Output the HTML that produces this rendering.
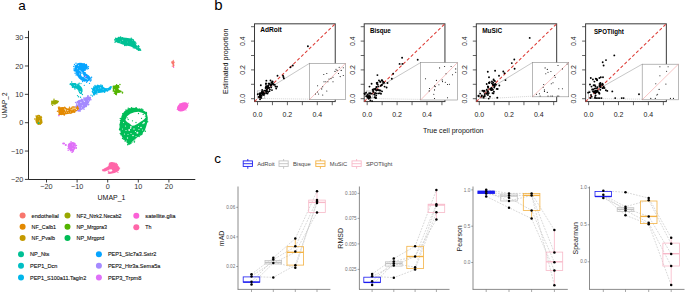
<!DOCTYPE html>
<html><head><meta charset="utf-8"><style>
html,body{margin:0;padding:0;background:#fff;width:685px;height:292px;overflow:hidden}
svg{display:block;font-family:"Liberation Sans", sans-serif}
</style></head><body>
<svg width="685" height="292" viewBox="0 0 685 292">
<rect width="685" height="292" fill="#fff"/>
<text x="18.2" y="9.8" font-size="13.5" fill="#000" text-anchor="start" font-weight="normal">a</text>
<line x1="28.5" y1="30.8" x2="28.5" y2="179.5" stroke="#111" stroke-width="0.9"/>
<line x1="28.5" y1="179.5" x2="195.3" y2="179.5" stroke="#111" stroke-width="0.9"/>
<line x1="24.9" y1="37.62" x2="28.5" y2="37.62" stroke="#111" stroke-width="0.8"/>
<text x="23.3" y="40.22" font-size="7.3" fill="#333" text-anchor="end" font-weight="normal">30</text>
<line x1="24.9" y1="65.98" x2="28.5" y2="65.98" stroke="#111" stroke-width="0.8"/>
<text x="23.3" y="68.58" font-size="7.3" fill="#333" text-anchor="end" font-weight="normal">20</text>
<line x1="24.9" y1="94.34" x2="28.5" y2="94.34" stroke="#111" stroke-width="0.8"/>
<text x="23.3" y="96.94" font-size="7.3" fill="#333" text-anchor="end" font-weight="normal">10</text>
<line x1="24.9" y1="122.7" x2="28.5" y2="122.7" stroke="#111" stroke-width="0.8"/>
<text x="23.3" y="125.3" font-size="7.3" fill="#333" text-anchor="end" font-weight="normal">0</text>
<line x1="24.9" y1="151.06" x2="28.5" y2="151.06" stroke="#111" stroke-width="0.8"/>
<text x="23.3" y="153.66" font-size="7.3" fill="#333" text-anchor="end" font-weight="normal">&#8722;10</text>
<line x1="24.9" y1="179.42" x2="28.5" y2="179.42" stroke="#111" stroke-width="0.8"/>
<text x="23.3" y="182.02" font-size="7.3" fill="#333" text-anchor="end" font-weight="normal">&#8722;20</text>
<line x1="46.5" y1="179.5" x2="46.5" y2="182.5" stroke="#111" stroke-width="0.8"/>
<text x="46.5" y="189.4" font-size="7.3" fill="#333" text-anchor="middle" font-weight="normal">&#8722;20</text>
<line x1="77.1" y1="179.5" x2="77.1" y2="182.5" stroke="#111" stroke-width="0.8"/>
<text x="77.1" y="189.4" font-size="7.3" fill="#333" text-anchor="middle" font-weight="normal">&#8722;10</text>
<line x1="107.7" y1="179.5" x2="107.7" y2="182.5" stroke="#111" stroke-width="0.8"/>
<text x="107.7" y="189.4" font-size="7.3" fill="#333" text-anchor="middle" font-weight="normal">0</text>
<line x1="138.3" y1="179.5" x2="138.3" y2="182.5" stroke="#111" stroke-width="0.8"/>
<text x="138.3" y="189.4" font-size="7.3" fill="#333" text-anchor="middle" font-weight="normal">10</text>
<line x1="168.9" y1="179.5" x2="168.9" y2="182.5" stroke="#111" stroke-width="0.8"/>
<text x="168.9" y="189.4" font-size="7.3" fill="#333" text-anchor="middle" font-weight="normal">20</text>
<text x="111.5" y="200" font-size="6.9" fill="#111" text-anchor="middle" font-weight="normal" textLength="27.8" lengthAdjust="spacingAndGlyphs">UMAP_1</text>
<text x="6.9" y="105.3" font-size="6.9" fill="#111" text-anchor="middle" font-weight="normal" transform="rotate(-90 6.9 105.3)" textLength="25.5" lengthAdjust="spacingAndGlyphs">UMAP_2</text>
<polygon points="114,39.5 116,38 120,37.3 126,37.8 131,38.5 134,40 135.3,43 136.8,45.5 139,47.3 140.5,49.3 139.5,50.5 137,49.7 134,47.8 130,46.3 126,45.6 122,44.3 118,42.7 115,41.7" fill="#00C094"/>
<circle cx="136.94" cy="48.93" r="0.75" fill="#00C094"/>
<circle cx="115.05" cy="42.23" r="0.75" fill="#00C094"/>
<circle cx="135.24" cy="42.32" r="0.75" fill="#00C094"/>
<circle cx="122.51" cy="37.69" r="0.75" fill="#00C094"/>
<circle cx="138.34" cy="45.85" r="0.75" fill="#00C094"/>
<circle cx="133.3" cy="47.83" r="0.75" fill="#00C094"/>
<circle cx="131.23" cy="38.25" r="0.75" fill="#00C094"/>
<circle cx="140.27" cy="49.26" r="0.75" fill="#00C094"/>
<circle cx="135.94" cy="43.14" r="0.75" fill="#00C094"/>
<circle cx="118.47" cy="37.62" r="0.75" fill="#00C094"/>
<circle cx="139.1" cy="49.88" r="0.75" fill="#00C094"/>
<circle cx="138.91" cy="46.47" r="0.75" fill="#00C094"/>
<circle cx="140.65" cy="50.34" r="0.75" fill="#00C094"/>
<circle cx="139.12" cy="50.05" r="0.75" fill="#00C094"/>
<circle cx="134.36" cy="42.25" r="0.75" fill="#00C094"/>
<circle cx="119.09" cy="37.43" r="0.75" fill="#00C094"/>
<circle cx="138.38" cy="50.22" r="0.75" fill="#00C094"/>
<circle cx="124.99" cy="45.1" r="0.75" fill="#00C094"/>
<circle cx="120.73" cy="37.6" r="0.75" fill="#00C094"/>
<circle cx="124.66" cy="45.53" r="0.75" fill="#00C094"/>
<circle cx="115.62" cy="38.29" r="0.75" fill="#00C094"/>
<circle cx="122.25" cy="43.54" r="0.75" fill="#00C094"/>
<circle cx="138.43" cy="46.21" r="0.75" fill="#00C094"/>
<circle cx="134.67" cy="42.04" r="0.75" fill="#00C094"/>
<circle cx="126.15" cy="45.54" r="0.75" fill="#00C094"/>
<circle cx="134.74" cy="47.92" r="0.75" fill="#00C094"/>
<circle cx="120.57" cy="36.91" r="0.75" fill="#00C094"/>
<circle cx="118.1" cy="42.58" r="0.75" fill="#00C094"/>
<circle cx="132.02" cy="39.25" r="0.75" fill="#00C094"/>
<circle cx="133.1" cy="39.75" r="0.75" fill="#00C094"/>
<circle cx="137.17" cy="47.83" r="0.38" fill="#fff" opacity="0.85"/>
<circle cx="115.78" cy="40.06" r="0.33" fill="#fff" opacity="0.85"/>
<circle cx="120.68" cy="41.89" r="0.37" fill="#fff" opacity="0.85"/>
<circle cx="132.45" cy="40.75" r="0.37" fill="#fff" opacity="0.85"/>
<circle cx="122.74" cy="40.24" r="0.46" fill="#fff" opacity="0.85"/>
<circle cx="127.72" cy="41.99" r="0.31" fill="#fff" opacity="0.85"/>
<polygon points="171.4,61.3 173.8,60.9 174.8,62.3 174,63.8 174.6,65.8 173,66.2 172.4,64.2 171.2,63" fill="#F8766D"/>
<circle cx="173.25" cy="60.43" r="0.6" fill="#F8766D"/>
<circle cx="173.52" cy="66.18" r="0.6" fill="#F8766D"/>
<circle cx="172.24" cy="65.99" r="0.6" fill="#F8766D"/>
<circle cx="173.1" cy="66.51" r="0.6" fill="#F8766D"/>
<circle cx="173.6" cy="67.2" r="0.7" fill="#FB61D7"/>
<ellipse cx="182.7" cy="106.8" rx="6.1" ry="4.1" fill="#FB61D7" transform="rotate(-28 182.7 106.8)"/>
<circle cx="177.2" cy="109.5" r="0.6" fill="#FB61D7"/>
<circle cx="188.3" cy="103.2" r="0.6" fill="#FB61D7"/>
<circle cx="180" cy="103.6" r="0.6" fill="#FB61D7"/>
<circle cx="186" cy="110" r="0.6" fill="#FB61D7"/>
<polygon points="77.5,63.2 81,62.8 85,63.8 87.5,65.5 87.8,68 85.5,70 84,71.5 86,73.5 89,75.5 91,78 90,80.5 86,81.6 82,80.8 79,78.5 77,75.5 75.5,72 74.2,69.5 75,66.5" fill="#06A4FF"/>
<circle cx="79.45" cy="63.55" r="0.75" fill="#06A4FF"/>
<circle cx="86.4" cy="65.02" r="0.75" fill="#06A4FF"/>
<circle cx="84.38" cy="72.98" r="0.75" fill="#06A4FF"/>
<circle cx="90.46" cy="80.99" r="0.75" fill="#06A4FF"/>
<circle cx="77.2" cy="74.5" r="0.75" fill="#06A4FF"/>
<circle cx="83.16" cy="71.65" r="0.75" fill="#06A4FF"/>
<circle cx="75.15" cy="73.26" r="0.75" fill="#06A4FF"/>
<circle cx="74.38" cy="70.44" r="0.75" fill="#06A4FF"/>
<circle cx="88.29" cy="68.45" r="0.75" fill="#06A4FF"/>
<circle cx="88.44" cy="66.7" r="0.75" fill="#06A4FF"/>
<circle cx="85.13" cy="72.71" r="0.75" fill="#06A4FF"/>
<circle cx="90.97" cy="78.94" r="0.75" fill="#06A4FF"/>
<circle cx="75.38" cy="65.86" r="0.75" fill="#06A4FF"/>
<circle cx="82.7" cy="81.45" r="0.75" fill="#06A4FF"/>
<circle cx="75.29" cy="68.24" r="0.75" fill="#06A4FF"/>
<circle cx="75.4" cy="66.67" r="0.75" fill="#06A4FF"/>
<circle cx="85.08" cy="70.28" r="0.75" fill="#06A4FF"/>
<circle cx="87.12" cy="69.05" r="0.75" fill="#06A4FF"/>
<circle cx="87.33" cy="81.22" r="0.75" fill="#06A4FF"/>
<circle cx="86.97" cy="67.15" r="0.75" fill="#06A4FF"/>
<circle cx="84.1" cy="63.68" r="0.75" fill="#06A4FF"/>
<circle cx="86.31" cy="64.56" r="0.75" fill="#06A4FF"/>
<circle cx="73.96" cy="68.92" r="0.75" fill="#06A4FF"/>
<circle cx="74.39" cy="70.77" r="0.75" fill="#06A4FF"/>
<circle cx="91.55" cy="77.27" r="0.75" fill="#06A4FF"/>
<circle cx="76.11" cy="74.92" r="0.75" fill="#06A4FF"/>
<circle cx="87.37" cy="79.66" r="0.33" fill="#fff" opacity="0.85"/>
<circle cx="81.45" cy="72.49" r="0.37" fill="#fff" opacity="0.85"/>
<circle cx="77.49" cy="68.79" r="0.44" fill="#fff" opacity="0.85"/>
<circle cx="79.77" cy="74.53" r="0.4" fill="#fff" opacity="0.85"/>
<circle cx="78.74" cy="65.24" r="0.38" fill="#fff" opacity="0.85"/>
<circle cx="78.54" cy="65.61" r="0.48" fill="#fff" opacity="0.85"/>
<circle cx="83.79" cy="75.97" r="0.32" fill="#fff" opacity="0.85"/>
<circle cx="79.9" cy="73.2" r="0.49" fill="#fff" opacity="0.85"/>
<polygon points="81,74 82,73.3 83.4,75 83.8,76.8 82.7,77.1 81.4,76" fill="#fff"/>
<path d="M79.2,70.2 Q81.5,71 82.6,73.4" stroke="#fff" stroke-width="0.55" fill="none"/>
<path d="M83.8,77.2 Q85.5,78.6 87.5,79" stroke="#fff" stroke-width="0.5" fill="none"/>
<circle cx="85.6" cy="76.6" r="0.8" fill="#DF70F8"/>
<circle cx="74.5" cy="64.5" r="0.7" fill="#06A4FF"/>
<circle cx="76" cy="63.2" r="0.7" fill="#06A4FF"/>
<circle cx="89.5" cy="79" r="0.7" fill="#06A4FF"/>
<circle cx="91" cy="80.2" r="0.7" fill="#06A4FF"/>
<circle cx="88" cy="80.6" r="0.7" fill="#06A4FF"/>
<circle cx="73.8" cy="66.5" r="0.7" fill="#06A4FF"/>
<circle cx="84.5" cy="81" r="0.7" fill="#06A4FF"/>
<circle cx="86.6" cy="82.2" r="0.7" fill="#06A4FF"/>
<polygon points="70.7,83.6 72.5,82.9 75.5,83 76.8,84 78.5,84.8 80,85.5 81.5,87 82.5,89 82.6,91.5 81.5,93.5 79.5,93.3 78.5,91.5 77.5,89.5 76,88.5 74,88 72.5,87 71,85.5" fill="#00BFC4"/>
<circle cx="81.09" cy="93.12" r="0.75" fill="#00BFC4"/>
<circle cx="78.02" cy="84.2" r="0.75" fill="#00BFC4"/>
<circle cx="80.3" cy="92.84" r="0.75" fill="#00BFC4"/>
<circle cx="72.67" cy="87.22" r="0.75" fill="#00BFC4"/>
<circle cx="71.66" cy="82.04" r="0.75" fill="#00BFC4"/>
<circle cx="70.28" cy="84.41" r="0.75" fill="#00BFC4"/>
<circle cx="74.41" cy="87.77" r="0.75" fill="#00BFC4"/>
<circle cx="72.38" cy="87.03" r="0.75" fill="#00BFC4"/>
<circle cx="80.99" cy="93.08" r="0.75" fill="#00BFC4"/>
<circle cx="78.83" cy="84.28" r="0.75" fill="#00BFC4"/>
<circle cx="78.75" cy="85.49" r="0.75" fill="#00BFC4"/>
<circle cx="74.93" cy="89.03" r="0.75" fill="#00BFC4"/>
<circle cx="70.41" cy="83.76" r="0.75" fill="#00BFC4"/>
<circle cx="80.84" cy="93.08" r="0.75" fill="#00BFC4"/>
<circle cx="72.01" cy="84.27" r="0.75" fill="#00BFC4"/>
<circle cx="80.09" cy="92.52" r="0.75" fill="#00BFC4"/>
<circle cx="76.68" cy="85.03" r="0.43" fill="#fff" opacity="0.85"/>
<circle cx="74.32" cy="85.37" r="0.45" fill="#fff" opacity="0.85"/>
<circle cx="80.64" cy="92.35" r="0.46" fill="#fff" opacity="0.85"/>
<circle cx="79.43" cy="91.51" r="0.33" fill="#fff" opacity="0.85"/>
<circle cx="80.64" cy="91.43" r="0.51" fill="#fff" opacity="0.85"/>
<circle cx="78.83" cy="90.25" r="0.36" fill="#fff" opacity="0.85"/>
<circle cx="78.5" cy="96.8" r="0.7" fill="#00BFC4"/>
<circle cx="80.5" cy="97.3" r="0.7" fill="#00BFC4"/>
<circle cx="82.4" cy="94.5" r="0.7" fill="#00BFC4"/>
<circle cx="79.2" cy="83.3" r="0.7" fill="#00BFC4"/>
<circle cx="81" cy="83.6" r="0.7" fill="#00BFC4"/>
<circle cx="77.5" cy="95.6" r="0.7" fill="#00BFC4"/>
<circle cx="84.3" cy="85.3" r="0.65" fill="#00B6EB"/>
<circle cx="89.5" cy="83.3" r="0.65" fill="#00B6EB"/>
<circle cx="91" cy="95.2" r="0.65" fill="#00B6EB"/>
<circle cx="92.5" cy="96" r="0.65" fill="#00B6EB"/>
<polygon points="92.4,89 93.5,87 95.5,85.8 98.5,85.1 101.5,85.5 103.5,87 105.5,88.2 108,88 110,86.8 111.8,86.3 111.3,88.5 110.5,90 107,91.3 104,92.2 101,92.8 97,93.2 95,94.3 93,94.5 92.4,92" fill="#00B6EB"/>
<circle cx="92.69" cy="89.74" r="0.75" fill="#00B6EB"/>
<circle cx="104.6" cy="92.28" r="0.75" fill="#00B6EB"/>
<circle cx="92.57" cy="91.9" r="0.75" fill="#00B6EB"/>
<circle cx="97.75" cy="85.34" r="0.75" fill="#00B6EB"/>
<circle cx="95.29" cy="93.87" r="0.75" fill="#00B6EB"/>
<circle cx="97.56" cy="85.67" r="0.75" fill="#00B6EB"/>
<circle cx="110.34" cy="87.1" r="0.75" fill="#00B6EB"/>
<circle cx="107.51" cy="90.99" r="0.75" fill="#00B6EB"/>
<circle cx="94.99" cy="85.5" r="0.75" fill="#00B6EB"/>
<circle cx="102.44" cy="86.34" r="0.75" fill="#00B6EB"/>
<circle cx="92.37" cy="91.57" r="0.75" fill="#00B6EB"/>
<circle cx="100.89" cy="85" r="0.75" fill="#00B6EB"/>
<circle cx="94.37" cy="94.84" r="0.75" fill="#00B6EB"/>
<circle cx="93.74" cy="94.79" r="0.75" fill="#00B6EB"/>
<circle cx="91.96" cy="88.43" r="0.75" fill="#00B6EB"/>
<circle cx="96.82" cy="93.95" r="0.75" fill="#00B6EB"/>
<circle cx="104.95" cy="88.63" r="0.75" fill="#00B6EB"/>
<circle cx="111.05" cy="86.9" r="0.75" fill="#00B6EB"/>
<circle cx="93.74" cy="94.11" r="0.75" fill="#00B6EB"/>
<circle cx="95.18" cy="93.33" r="0.75" fill="#00B6EB"/>
<circle cx="93.77" cy="86.93" r="0.75" fill="#00B6EB"/>
<circle cx="102.11" cy="85.44" r="0.75" fill="#00B6EB"/>
<circle cx="98.83" cy="88.15" r="0.37" fill="#fff" opacity="0.85"/>
<circle cx="93.4" cy="91.32" r="0.43" fill="#fff" opacity="0.85"/>
<circle cx="100.86" cy="88.07" r="0.45" fill="#fff" opacity="0.85"/>
<circle cx="107.63" cy="89.12" r="0.31" fill="#fff" opacity="0.85"/>
<circle cx="95.71" cy="89" r="0.36" fill="#fff" opacity="0.85"/>
<circle cx="97.36" cy="92.04" r="0.43" fill="#fff" opacity="0.85"/>
<circle cx="100.28" cy="87.34" r="0.4" fill="#fff" opacity="0.85"/>
<circle cx="103.08" cy="89.36" r="0.37" fill="#fff" opacity="0.85"/>
<polygon points="113,86 116,85 119,84.9 119.5,87.5 118,89 118.8,90 121.5,90.8 121.8,92.3 119.5,92.6 117.3,93 116.8,95.4 115,94.8 114.5,92.5 113,90.5 112.6,88" fill="#53B400"/>
<circle cx="113.18" cy="91.05" r="0.75" fill="#53B400"/>
<circle cx="116.62" cy="84.66" r="0.75" fill="#53B400"/>
<circle cx="119.62" cy="90.9" r="0.75" fill="#53B400"/>
<circle cx="114.35" cy="93.24" r="0.75" fill="#53B400"/>
<circle cx="118.64" cy="87.28" r="0.75" fill="#53B400"/>
<circle cx="118.21" cy="89.91" r="0.75" fill="#53B400"/>
<circle cx="118.77" cy="92.34" r="0.75" fill="#53B400"/>
<circle cx="118.51" cy="90.16" r="0.75" fill="#53B400"/>
<circle cx="122.41" cy="92.9" r="0.75" fill="#53B400"/>
<circle cx="113.25" cy="86.35" r="0.75" fill="#53B400"/>
<circle cx="113.95" cy="90.65" r="0.75" fill="#53B400"/>
<circle cx="122.55" cy="92.25" r="0.75" fill="#53B400"/>
<circle cx="119.11" cy="91.89" r="0.75" fill="#53B400"/>
<circle cx="119.93" cy="84.59" r="0.75" fill="#53B400"/>
<circle cx="114.83" cy="90.43" r="0.41" fill="#fff" opacity="0.85"/>
<circle cx="114.7" cy="89.36" r="0.37" fill="#fff" opacity="0.85"/>
<circle cx="114.38" cy="89.78" r="0.35" fill="#fff" opacity="0.85"/>
<polygon points="76.5,101.5 79,100 82,99.3 84.5,98.5 86.5,97.2 89,96.5 91.1,97 90.8,99.5 89.5,101.5 88,104 86.5,106.5 84,108.5 81,110.3 78.5,111.3 76.5,110.5 76,107 76.2,104" fill="#A58AFF"/>
<circle cx="88.06" cy="104.47" r="0.75" fill="#A58AFF"/>
<circle cx="90.91" cy="99.67" r="0.75" fill="#A58AFF"/>
<circle cx="88" cy="95.7" r="0.75" fill="#A58AFF"/>
<circle cx="87.92" cy="96.34" r="0.75" fill="#A58AFF"/>
<circle cx="76.74" cy="107.78" r="0.75" fill="#A58AFF"/>
<circle cx="84.02" cy="97.99" r="0.75" fill="#A58AFF"/>
<circle cx="75.58" cy="102.43" r="0.75" fill="#A58AFF"/>
<circle cx="79.78" cy="111.04" r="0.75" fill="#A58AFF"/>
<circle cx="84.11" cy="98.23" r="0.75" fill="#A58AFF"/>
<circle cx="86.09" cy="97.55" r="0.75" fill="#A58AFF"/>
<circle cx="86.65" cy="105.24" r="0.75" fill="#A58AFF"/>
<circle cx="76.11" cy="106.32" r="0.75" fill="#A58AFF"/>
<circle cx="86.3" cy="106.38" r="0.75" fill="#A58AFF"/>
<circle cx="78.23" cy="110.93" r="0.75" fill="#A58AFF"/>
<circle cx="80.13" cy="111.09" r="0.75" fill="#A58AFF"/>
<circle cx="88.42" cy="102.18" r="0.75" fill="#A58AFF"/>
<circle cx="84.01" cy="109.2" r="0.75" fill="#A58AFF"/>
<circle cx="88.72" cy="104.13" r="0.75" fill="#A58AFF"/>
<circle cx="88.45" cy="104.76" r="0.75" fill="#A58AFF"/>
<circle cx="81.58" cy="99.24" r="0.75" fill="#A58AFF"/>
<circle cx="75.82" cy="106.71" r="0.75" fill="#A58AFF"/>
<circle cx="76.21" cy="110.64" r="0.75" fill="#A58AFF"/>
<circle cx="78.94" cy="100.88" r="0.75" fill="#A58AFF"/>
<circle cx="87.71" cy="96.45" r="0.75" fill="#A58AFF"/>
<circle cx="81.46" cy="108.08" r="0.32" fill="#fff" opacity="0.85"/>
<circle cx="78.98" cy="107.64" r="0.37" fill="#fff" opacity="0.85"/>
<circle cx="84.34" cy="101.32" r="0.59" fill="#fff" opacity="0.85"/>
<circle cx="77.46" cy="103.88" r="0.51" fill="#fff" opacity="0.85"/>
<circle cx="82.29" cy="105.68" r="0.5" fill="#fff" opacity="0.85"/>
<circle cx="88.7" cy="100.85" r="0.47" fill="#fff" opacity="0.85"/>
<circle cx="81.63" cy="107.42" r="0.36" fill="#fff" opacity="0.85"/>
<circle cx="78.32" cy="109.59" r="0.47" fill="#fff" opacity="0.85"/>
<circle cx="80.93" cy="102.36" r="0.6" fill="#fff" opacity="0.85"/>
<circle cx="83.66" cy="99.92" r="0.54" fill="#fff" opacity="0.85"/>
<polygon points="58.3,108.5 60,107.3 63,107 65.5,107.6 67.5,108.4 70,108 72.5,107.9 75,107.4 77,107.2 78.8,107.8 78.4,109.5 76.5,111 74,112.3 71,113.4 68,114 65,114.6 62,115.1 59,115 58.2,112" fill="#E38900"/>
<circle cx="64.31" cy="114.55" r="0.75" fill="#E38900"/>
<circle cx="77.43" cy="106.4" r="0.75" fill="#E38900"/>
<circle cx="77.9" cy="108.38" r="0.75" fill="#E38900"/>
<circle cx="57.45" cy="111.34" r="0.75" fill="#E38900"/>
<circle cx="70.69" cy="108.46" r="0.75" fill="#E38900"/>
<circle cx="58.65" cy="108.59" r="0.75" fill="#E38900"/>
<circle cx="72.31" cy="107.06" r="0.75" fill="#E38900"/>
<circle cx="77.49" cy="107.97" r="0.75" fill="#E38900"/>
<circle cx="59.53" cy="107.29" r="0.75" fill="#E38900"/>
<circle cx="77.93" cy="107.92" r="0.75" fill="#E38900"/>
<circle cx="64.09" cy="114.44" r="0.75" fill="#E38900"/>
<circle cx="58.94" cy="114.81" r="0.75" fill="#E38900"/>
<circle cx="71.75" cy="112.67" r="0.75" fill="#E38900"/>
<circle cx="77.83" cy="108.95" r="0.75" fill="#E38900"/>
<circle cx="74.6" cy="112.02" r="0.75" fill="#E38900"/>
<circle cx="74.69" cy="111.67" r="0.75" fill="#E38900"/>
<circle cx="58.42" cy="107.28" r="0.75" fill="#E38900"/>
<circle cx="64.7" cy="107.17" r="0.75" fill="#E38900"/>
<circle cx="69.52" cy="107.34" r="0.75" fill="#E38900"/>
<circle cx="73.95" cy="112.17" r="0.75" fill="#E38900"/>
<circle cx="61.21" cy="114.47" r="0.75" fill="#E38900"/>
<circle cx="71.61" cy="107.89" r="0.75" fill="#E38900"/>
<circle cx="73.86" cy="106.93" r="0.75" fill="#E38900"/>
<circle cx="64.25" cy="115" r="0.75" fill="#E38900"/>
<circle cx="65.48" cy="108.13" r="0.75" fill="#E38900"/>
<circle cx="72.24" cy="108.15" r="0.75" fill="#E38900"/>
<circle cx="74" cy="106.98" r="0.75" fill="#E38900"/>
<circle cx="70.57" cy="113.08" r="0.75" fill="#E38900"/>
<circle cx="75" cy="108.56" r="0.7" fill="#fff" opacity="0.85"/>
<circle cx="71.96" cy="109.63" r="0.51" fill="#fff" opacity="0.85"/>
<circle cx="64.55" cy="109.02" r="0.51" fill="#fff" opacity="0.85"/>
<circle cx="65.77" cy="111.08" r="0.42" fill="#fff" opacity="0.85"/>
<circle cx="67.78" cy="110.62" r="0.6" fill="#fff" opacity="0.85"/>
<circle cx="74.9" cy="110.24" r="0.38" fill="#fff" opacity="0.85"/>
<circle cx="65.59" cy="109.96" r="0.67" fill="#fff" opacity="0.85"/>
<circle cx="68.59" cy="112.32" r="0.37" fill="#fff" opacity="0.85"/>
<circle cx="64.66" cy="112.84" r="0.38" fill="#fff" opacity="0.85"/>
<circle cx="76.45" cy="109.33" r="0.67" fill="#fff" opacity="0.85"/>
<circle cx="73.05" cy="108.79" r="0.68" fill="#fff" opacity="0.85"/>
<circle cx="70.78" cy="109.04" r="0.48" fill="#fff" opacity="0.85"/>
<circle cx="70.39" cy="111.99" r="0.44" fill="#fff" opacity="0.85"/>
<circle cx="66.51" cy="112.16" r="0.46" fill="#fff" opacity="0.85"/>
<circle cx="58.9" cy="115.6" r="0.8" fill="#DF70F8"/>
<polygon points="51.3,102 53,100.2 56,99.9 58.9,101 58,103 55,104.8 52.5,104.2" fill="#99A800"/>
<circle cx="58" cy="101.4" r="0.75" fill="#99A800"/>
<circle cx="51.79" cy="101.26" r="0.75" fill="#99A800"/>
<circle cx="51.99" cy="103.54" r="0.75" fill="#99A800"/>
<circle cx="51.79" cy="102.19" r="0.75" fill="#99A800"/>
<circle cx="52.58" cy="105.2" r="0.75" fill="#99A800"/>
<circle cx="57.26" cy="102.51" r="0.75" fill="#99A800"/>
<circle cx="53.97" cy="99.33" r="0.75" fill="#99A800"/>
<circle cx="51.54" cy="103.9" r="0.75" fill="#99A800"/>
<polygon points="36,116 38,114.7 40,115 40.6,117 42,119 42.5,122 41,124.5 38,124.9 36,123 35.3,120 35.8,118" fill="#C49A00"/>
<circle cx="36.48" cy="118.56" r="0.75" fill="#C49A00"/>
<circle cx="36.07" cy="115.94" r="0.75" fill="#C49A00"/>
<circle cx="40.17" cy="124.04" r="0.75" fill="#C49A00"/>
<circle cx="40.64" cy="117.42" r="0.75" fill="#C49A00"/>
<circle cx="34.77" cy="119.03" r="0.75" fill="#C49A00"/>
<circle cx="40.82" cy="117.17" r="0.75" fill="#C49A00"/>
<circle cx="41.52" cy="122.9" r="0.75" fill="#C49A00"/>
<circle cx="41.5" cy="117.63" r="0.75" fill="#C49A00"/>
<circle cx="41.03" cy="116.57" r="0.75" fill="#C49A00"/>
<circle cx="41.68" cy="122.48" r="0.75" fill="#C49A00"/>
<circle cx="39.47" cy="120.84" r="0.4" fill="#fff" opacity="0.85"/>
<circle cx="38.85" cy="116.38" r="0.3" fill="#fff" opacity="0.85"/>
<circle cx="39.71" cy="121.4" r="0.34" fill="#fff" opacity="0.85"/>
<circle cx="38.6" cy="123.2" r="0.9" fill="#00C094"/>
<polygon points="68,144 70,142.5 73,141.9 75.5,143 76,146 75,149 73.5,151.6 70.5,151 68.5,149 67.7,146.5" fill="#DF70F8"/>
<circle cx="73.1" cy="151.49" r="0.75" fill="#DF70F8"/>
<circle cx="70.47" cy="150.77" r="0.75" fill="#DF70F8"/>
<circle cx="76.26" cy="148.28" r="0.75" fill="#DF70F8"/>
<circle cx="68.18" cy="150.19" r="0.75" fill="#DF70F8"/>
<circle cx="70.62" cy="150.25" r="0.75" fill="#DF70F8"/>
<circle cx="71.04" cy="141.67" r="0.75" fill="#DF70F8"/>
<circle cx="74.87" cy="148.23" r="0.75" fill="#DF70F8"/>
<circle cx="72.19" cy="152.04" r="0.75" fill="#DF70F8"/>
<circle cx="76.2" cy="147.42" r="0.75" fill="#DF70F8"/>
<circle cx="68.06" cy="148.49" r="0.75" fill="#DF70F8"/>
<circle cx="76.42" cy="145.52" r="0.75" fill="#DF70F8"/>
<circle cx="72.04" cy="152.14" r="0.75" fill="#DF70F8"/>
<circle cx="72.93" cy="148.62" r="0.43" fill="#fff" opacity="0.85"/>
<circle cx="74.82" cy="146.14" r="0.44" fill="#fff" opacity="0.85"/>
<circle cx="72.43" cy="144.89" r="0.34" fill="#fff" opacity="0.85"/>
<ellipse cx="63.6" cy="143.6" rx="1.5" ry="1.0" fill="#DF70F8"/>
<ellipse cx="65.8" cy="145" rx="1.1" ry="1.0" fill="#DF70F8"/>
<polygon points="109.5,162.5 112,162 114.5,162.6 116.5,164 118.5,166 119.8,168.5 119,170.5 117,172 114.5,173 112,173.5 109,174 107.5,173.2 108.5,172 111.5,171.5 112.5,170.5 111.5,169.3 109.5,169.5 107.5,170.5 105,171.5 102.5,171.2 102.3,170 104,168.5 106.5,167.3 108.5,166 108.7,164" fill="#FF66A8"/>
<circle cx="102.5" cy="169.91" r="0.6" fill="#FF66A8"/>
<circle cx="111.36" cy="162.79" r="0.6" fill="#FF66A8"/>
<circle cx="108.84" cy="171.18" r="0.6" fill="#FF66A8"/>
<circle cx="119.64" cy="168.09" r="0.6" fill="#FF66A8"/>
<circle cx="109.15" cy="166.38" r="0.6" fill="#FF66A8"/>
<circle cx="117.94" cy="172.43" r="0.6" fill="#FF66A8"/>
<circle cx="116.72" cy="164.21" r="0.6" fill="#FF66A8"/>
<circle cx="108.29" cy="171.25" r="0.6" fill="#FF66A8"/>
<circle cx="115.11" cy="163.03" r="0.6" fill="#FF66A8"/>
<circle cx="116.39" cy="163.37" r="0.6" fill="#FF66A8"/>
<circle cx="117.29" cy="164.53" r="0.6" fill="#FF66A8"/>
<circle cx="110.91" cy="172.8" r="0.6" fill="#FF66A8"/>
<polygon points="120.5,120 122,115 124.2,111.4 128,109 132.4,107.7 136.5,108 140.7,109.3 143.5,110.5 145.6,111.8 147.2,115 147.8,119 147.3,122.5 146,127 144.5,131 141,134.5 137.5,137.5 134.5,140.5 131.5,143.5 129,144.6 127,143 124.5,140 122,137 120.8,133 119.6,128 119.6,124" fill="#00BC56"/>
<circle cx="146.28" cy="115.24" r="0.75" fill="#00BC56"/>
<circle cx="147.6" cy="121.65" r="0.75" fill="#00BC56"/>
<circle cx="146.73" cy="117.32" r="0.75" fill="#00BC56"/>
<circle cx="141.96" cy="132.76" r="0.75" fill="#00BC56"/>
<circle cx="122.67" cy="113.72" r="0.75" fill="#00BC56"/>
<circle cx="126" cy="109.91" r="0.75" fill="#00BC56"/>
<circle cx="134.37" cy="141.97" r="0.75" fill="#00BC56"/>
<circle cx="120.29" cy="118.61" r="0.75" fill="#00BC56"/>
<circle cx="140.73" cy="110.08" r="0.75" fill="#00BC56"/>
<circle cx="134.52" cy="140.89" r="0.75" fill="#00BC56"/>
<circle cx="142.84" cy="109.82" r="0.75" fill="#00BC56"/>
<circle cx="122.57" cy="138.58" r="0.75" fill="#00BC56"/>
<circle cx="129.76" cy="144.11" r="0.75" fill="#00BC56"/>
<circle cx="145.31" cy="131.16" r="0.75" fill="#00BC56"/>
<circle cx="140.54" cy="133.58" r="0.75" fill="#00BC56"/>
<circle cx="146.37" cy="112.58" r="0.75" fill="#00BC56"/>
<circle cx="123.85" cy="139.36" r="0.75" fill="#00BC56"/>
<circle cx="120.41" cy="120.4" r="0.75" fill="#00BC56"/>
<circle cx="127.73" cy="144.69" r="0.75" fill="#00BC56"/>
<circle cx="121.02" cy="134.72" r="0.75" fill="#00BC56"/>
<circle cx="120.01" cy="128.46" r="0.75" fill="#00BC56"/>
<circle cx="139.1" cy="136.44" r="0.75" fill="#00BC56"/>
<circle cx="146.45" cy="113.38" r="0.75" fill="#00BC56"/>
<circle cx="136.22" cy="108.32" r="0.75" fill="#00BC56"/>
<circle cx="125.08" cy="141.12" r="0.75" fill="#00BC56"/>
<circle cx="142.24" cy="110.5" r="0.75" fill="#00BC56"/>
<circle cx="139.82" cy="109.04" r="0.75" fill="#00BC56"/>
<circle cx="136.08" cy="107.82" r="0.75" fill="#00BC56"/>
<circle cx="141.75" cy="109.04" r="0.75" fill="#00BC56"/>
<circle cx="144.43" cy="129.49" r="0.75" fill="#00BC56"/>
<circle cx="142.07" cy="133.67" r="0.75" fill="#00BC56"/>
<circle cx="140.49" cy="135" r="0.75" fill="#00BC56"/>
<circle cx="122.35" cy="116.17" r="0.75" fill="#00BC56"/>
<circle cx="128.09" cy="144.28" r="0.75" fill="#00BC56"/>
<circle cx="121.82" cy="134.6" r="0.75" fill="#00BC56"/>
<circle cx="119.61" cy="129.51" r="0.75" fill="#00BC56"/>
<circle cx="129.66" cy="108.64" r="0.75" fill="#00BC56"/>
<circle cx="131.47" cy="107.66" r="0.75" fill="#00BC56"/>
<circle cx="119.59" cy="129.71" r="0.75" fill="#00BC56"/>
<circle cx="141.58" cy="134.59" r="0.75" fill="#00BC56"/>
<circle cx="120.31" cy="133.56" r="0.75" fill="#00BC56"/>
<circle cx="120.21" cy="124.69" r="0.75" fill="#00BC56"/>
<circle cx="128.25" cy="108.34" r="0.75" fill="#00BC56"/>
<circle cx="141.44" cy="110.06" r="0.75" fill="#00BC56"/>
<circle cx="130.94" cy="142.85" r="0.75" fill="#00BC56"/>
<polygon points="125.4,120 126.2,118 127,116.3 130.3,113.8 134.4,112.2 138.6,111.8 142.7,113 145.3,114.5 146,117 144.5,119 142.7,120.4 140.2,122 137.7,123.7 134.4,125.5 132,125.8 129.5,123.6 127,121.9" fill="#fff"/>
<circle cx="128.2" cy="119.5" r="0.65" fill="#00BC56"/>
<circle cx="138.5" cy="113.5" r="0.65" fill="#00BC56"/>
<circle cx="145.4" cy="116.2" r="0.65" fill="#00BC56"/>
<circle cx="141.5" cy="118.3" r="0.65" fill="#00BC56"/>
<circle cx="132.5" cy="120.8" r="0.65" fill="#00BC56"/>
<circle cx="127.2" cy="117.8" r="0.65" fill="#00BC56"/>
<circle cx="136" cy="122.5" r="0.65" fill="#00BC56"/>
<circle cx="143.2" cy="114.4" r="0.65" fill="#00BC56"/>
<circle cx="130.9" cy="126.8" r="0.9" fill="#fff" opacity="0.92"/>
<circle cx="130.6" cy="128.2" r="0.7" fill="#fff" opacity="0.92"/>
<circle cx="129.2" cy="130" r="0.9" fill="#fff" opacity="0.92"/>
<circle cx="137.4" cy="132.7" r="1" fill="#fff" opacity="0.92"/>
<circle cx="126" cy="130.5" r="0.6" fill="#fff" opacity="0.92"/>
<circle cx="134" cy="129" r="0.7" fill="#fff" opacity="0.92"/>
<circle cx="141" cy="127.5" r="0.8" fill="#fff" opacity="0.92"/>
<circle cx="124.5" cy="134" r="0.6" fill="#fff" opacity="0.92"/>
<circle cx="133" cy="135.5" r="0.8" fill="#fff" opacity="0.92"/>
<circle cx="127.5" cy="138" r="0.7" fill="#fff" opacity="0.92"/>
<circle cx="144" cy="122.6" r="0.9" fill="#fff" opacity="0.92"/>
<circle cx="143" cy="123.5" r="0.7" fill="#fff" opacity="0.92"/>
<circle cx="138.5" cy="126.5" r="0.5" fill="#fff" opacity="0.92"/>
<circle cx="125.5" cy="126" r="0.6" fill="#fff" opacity="0.92"/>
<circle cx="135.5" cy="131.5" r="0.6" fill="#fff" opacity="0.92"/>
<circle cx="122.5" cy="129" r="0.5" fill="#fff" opacity="0.92"/>
<circle cx="131" cy="133.5" r="0.6" fill="#fff" opacity="0.92"/>
<circle cx="139" cy="129.5" r="0.6" fill="#fff" opacity="0.92"/>
<circle cx="128" cy="134.5" r="0.5" fill="#fff" opacity="0.92"/>
<circle cx="136" cy="136.5" r="0.5" fill="#fff" opacity="0.92"/>
<circle cx="123.5" cy="122.5" r="0.5" fill="#fff" opacity="0.92"/>
<circle cx="142.5" cy="130" r="0.5" fill="#fff" opacity="0.92"/>
<circle cx="126.5" cy="141" r="0.5" fill="#fff" opacity="0.92"/>
<line x1="131.5" y1="142.8" x2="137.8" y2="137.2" stroke="#fff" stroke-width="0.8"/>
<circle cx="22.6" cy="215.5" r="3" fill="#F8766D"/>
<text x="31.6" y="217.6" font-size="5.9" fill="#111" text-anchor="start" font-weight="normal" stroke="#111" stroke-width="0.12" textLength="27.2" lengthAdjust="spacingAndGlyphs">endothelial</text>
<circle cx="22.6" cy="226.8" r="3" fill="#E38900"/>
<text x="31.6" y="228.9" font-size="5.9" fill="#111" text-anchor="start" font-weight="normal" stroke="#111" stroke-width="0.12" textLength="24.3" lengthAdjust="spacingAndGlyphs">NF_Calb1</text>
<circle cx="22.6" cy="238" r="3" fill="#C49A00"/>
<text x="31.6" y="240.1" font-size="5.9" fill="#111" text-anchor="start" font-weight="normal" stroke="#111" stroke-width="0.12" textLength="23.3" lengthAdjust="spacingAndGlyphs">NF_Pvalb</text>
<circle cx="67.5" cy="215.5" r="3" fill="#99A800"/>
<text x="76.5" y="217.6" font-size="5.9" fill="#111" text-anchor="start" font-weight="normal" stroke="#111" stroke-width="0.12" textLength="45" lengthAdjust="spacingAndGlyphs">NF2_Ntrk2.Necab2</text>
<circle cx="67.5" cy="226.8" r="3" fill="#53B400"/>
<text x="76.5" y="228.9" font-size="5.9" fill="#111" text-anchor="start" font-weight="normal" stroke="#111" stroke-width="0.12" textLength="30.4" lengthAdjust="spacingAndGlyphs">NP_Mrgpra3</text>
<circle cx="67.5" cy="238" r="3" fill="#00BC56"/>
<text x="76.5" y="240.1" font-size="5.9" fill="#111" text-anchor="start" font-weight="normal" stroke="#111" stroke-width="0.12" textLength="27.9" lengthAdjust="spacingAndGlyphs">NP_Mrgprd</text>
<circle cx="136.3" cy="215.8" r="3" fill="#FB61D7"/>
<text x="145.3" y="217.9" font-size="5.9" fill="#111" text-anchor="start" font-weight="normal" stroke="#111" stroke-width="0.12" textLength="30.2" lengthAdjust="spacingAndGlyphs">satellite.glia</text>
<circle cx="136.3" cy="227.2" r="3" fill="#FF66A8"/>
<text x="145.3" y="229.3" font-size="5.9" fill="#111" text-anchor="start" font-weight="normal" stroke="#111" stroke-width="0.12" textLength="6.2" lengthAdjust="spacingAndGlyphs">Th</text>
<circle cx="21" cy="254.3" r="3" fill="#00C094"/>
<text x="30" y="256.4" font-size="5.9" fill="#111" text-anchor="start" font-weight="normal" stroke="#111" stroke-width="0.12" textLength="19.3" lengthAdjust="spacingAndGlyphs">NP_Nts</text>
<circle cx="21" cy="265.8" r="3" fill="#00BFC4"/>
<text x="30" y="267.9" font-size="5.9" fill="#111" text-anchor="start" font-weight="normal" stroke="#111" stroke-width="0.12" textLength="27.4" lengthAdjust="spacingAndGlyphs">PEP1_Dcn</text>
<circle cx="21" cy="277.4" r="3" fill="#00B6EB"/>
<text x="30" y="279.5" font-size="5.9" fill="#111" text-anchor="start" font-weight="normal" stroke="#111" stroke-width="0.12" textLength="56.2" lengthAdjust="spacingAndGlyphs">PEP1_S100a11.Tagln2</text>
<circle cx="98.9" cy="254.3" r="3" fill="#06A4FF"/>
<text x="107.9" y="256.4" font-size="5.9" fill="#111" text-anchor="start" font-weight="normal" stroke="#111" stroke-width="0.12" textLength="48.4" lengthAdjust="spacingAndGlyphs">PEP1_Slc7a3.Sstr2</text>
<circle cx="98.9" cy="265.8" r="3" fill="#A58AFF"/>
<text x="107.9" y="267.9" font-size="5.9" fill="#111" text-anchor="start" font-weight="normal" stroke="#111" stroke-width="0.12" textLength="52.4" lengthAdjust="spacingAndGlyphs">PEP2_Htr3a.Sema5a</text>
<circle cx="98.9" cy="277.4" r="3" fill="#DF70F8"/>
<text x="107.9" y="279.5" font-size="5.9" fill="#111" text-anchor="start" font-weight="normal" stroke="#111" stroke-width="0.12" textLength="33.5" lengthAdjust="spacingAndGlyphs">PEP3_Trpm8</text>
<text x="214.3" y="10.2" font-size="15" fill="#000" text-anchor="start" font-weight="normal">b</text>
<text x="228.3" y="61.3" font-size="7.1" fill="#111" text-anchor="middle" font-weight="normal" transform="rotate(-90 228.3 61.3)" textLength="65.6" lengthAdjust="spacingAndGlyphs">Estimated proportion</text>
<text x="453.2" y="132.9" font-size="7.1" fill="#111" text-anchor="middle" font-weight="normal" textLength="60.6" lengthAdjust="spacingAndGlyphs">True cell proportion</text>
<line x1="251.01" y1="98.7" x2="254.51" y2="98.7" stroke="#222" stroke-width="0.7"/>
<line x1="257.5" y1="101.58" x2="257.5" y2="105.18" stroke="#222" stroke-width="0.7"/>
<line x1="251.01" y1="84.3" x2="254.51" y2="84.3" stroke="#222" stroke-width="0.7"/>
<line x1="272.45" y1="101.58" x2="272.45" y2="105.18" stroke="#222" stroke-width="0.7"/>
<line x1="251.01" y1="69.9" x2="254.51" y2="69.9" stroke="#222" stroke-width="0.7"/>
<line x1="287.4" y1="101.58" x2="287.4" y2="105.18" stroke="#222" stroke-width="0.7"/>
<line x1="251.01" y1="55.5" x2="254.51" y2="55.5" stroke="#222" stroke-width="0.7"/>
<line x1="302.35" y1="101.58" x2="302.35" y2="105.18" stroke="#222" stroke-width="0.7"/>
<line x1="251.01" y1="41.1" x2="254.51" y2="41.1" stroke="#222" stroke-width="0.7"/>
<line x1="317.3" y1="101.58" x2="317.3" y2="105.18" stroke="#222" stroke-width="0.7"/>
<line x1="251.01" y1="26.7" x2="254.51" y2="26.7" stroke="#222" stroke-width="0.7"/>
<line x1="332.25" y1="101.58" x2="332.25" y2="105.18" stroke="#222" stroke-width="0.7"/>
<text x="245.21" y="98.7" font-size="6.9" fill="#222" text-anchor="middle" font-weight="normal" transform="rotate(-90 245.21 98.7)">0.0</text>
<text x="257.5" y="116.5" font-size="7" fill="#222" text-anchor="middle" font-weight="normal">0.0</text>
<text x="245.21" y="69.9" font-size="6.9" fill="#222" text-anchor="middle" font-weight="normal" transform="rotate(-90 245.21 69.9)">0.2</text>
<text x="287.4" y="116.5" font-size="7" fill="#222" text-anchor="middle" font-weight="normal">0.2</text>
<text x="245.21" y="41.1" font-size="6.9" fill="#222" text-anchor="middle" font-weight="normal" transform="rotate(-90 245.21 41.1)">0.4</text>
<text x="317.3" y="116.5" font-size="7" fill="#222" text-anchor="middle" font-weight="normal">0.4</text>
<rect x="254.51" y="23.82" width="80.73" height="77.76" stroke="#3a3a3a" stroke-width="1" fill="none"/>
<rect x="257.2" y="90.9" width="7.6" height="7.7" stroke="#999" stroke-width="0.5" fill="none"/>
<line x1="264.8" y1="90.9" x2="309.4" y2="63.4" stroke="#999" stroke-width="0.55"/>
<line x1="264.8" y1="98.6" x2="309.4" y2="99.1" stroke="#bbb" stroke-width="0.55" stroke-dasharray="1.2,0.8"/>
<line x1="254.51" y1="101.58" x2="335.24" y2="23.82" stroke="#dd3b35" stroke-width="1.05" stroke-dasharray="3.2,2.2"/>
<circle cx="270.22" cy="84.95" r="0.95" fill="#000"/>
<circle cx="271.19" cy="87.39" r="0.95" fill="#000"/>
<circle cx="266.82" cy="91.52" r="0.95" fill="#000"/>
<circle cx="266.81" cy="89.77" r="0.95" fill="#000"/>
<circle cx="272.86" cy="83.57" r="0.95" fill="#000"/>
<circle cx="266.92" cy="86.19" r="0.95" fill="#000"/>
<circle cx="262.36" cy="93.47" r="0.95" fill="#000"/>
<circle cx="259.95" cy="97.11" r="0.95" fill="#000"/>
<circle cx="271.47" cy="82.68" r="0.95" fill="#000"/>
<circle cx="266.43" cy="87.41" r="0.95" fill="#000"/>
<circle cx="259.81" cy="95.74" r="0.95" fill="#000"/>
<circle cx="274.67" cy="84.79" r="0.95" fill="#000"/>
<circle cx="277.04" cy="86.66" r="0.95" fill="#000"/>
<circle cx="265.93" cy="90.47" r="0.95" fill="#000"/>
<circle cx="261.68" cy="95.71" r="0.95" fill="#000"/>
<circle cx="270.92" cy="85.49" r="0.95" fill="#000"/>
<circle cx="260.38" cy="93.45" r="0.95" fill="#000"/>
<circle cx="269.72" cy="83.82" r="0.95" fill="#000"/>
<circle cx="259.64" cy="94.29" r="0.95" fill="#000"/>
<circle cx="268.92" cy="83.58" r="0.95" fill="#000"/>
<circle cx="267.54" cy="93.58" r="0.95" fill="#000"/>
<circle cx="268.87" cy="87.78" r="0.95" fill="#000"/>
<circle cx="268.58" cy="83.68" r="0.95" fill="#000"/>
<circle cx="262.78" cy="94.62" r="0.95" fill="#000"/>
<circle cx="268.29" cy="85.6" r="0.95" fill="#000"/>
<circle cx="265.86" cy="83.91" r="0.95" fill="#000"/>
<circle cx="267.17" cy="91.12" r="0.95" fill="#000"/>
<circle cx="262.18" cy="89.94" r="0.95" fill="#000"/>
<circle cx="268.34" cy="87.11" r="0.95" fill="#000"/>
<circle cx="269.91" cy="89.6" r="0.95" fill="#000"/>
<circle cx="260.43" cy="97.22" r="0.95" fill="#000"/>
<circle cx="263.07" cy="92.56" r="0.95" fill="#000"/>
<circle cx="266.32" cy="93.23" r="0.95" fill="#000"/>
<circle cx="264.76" cy="93.56" r="0.95" fill="#000"/>
<circle cx="272.04" cy="82.47" r="0.95" fill="#000"/>
<circle cx="267.67" cy="88.58" r="0.95" fill="#000"/>
<circle cx="269.17" cy="87.85" r="0.95" fill="#000"/>
<circle cx="263.87" cy="93.68" r="0.95" fill="#000"/>
<circle cx="266" cy="86.14" r="0.95" fill="#000"/>
<circle cx="260.35" cy="93.67" r="0.95" fill="#000"/>
<circle cx="266.1" cy="90.95" r="0.95" fill="#000"/>
<circle cx="264.24" cy="90.61" r="0.95" fill="#000"/>
<circle cx="265.61" cy="87.95" r="0.95" fill="#000"/>
<circle cx="272.45" cy="81.9" r="0.95" fill="#000"/>
<circle cx="261.28" cy="97.88" r="0.95" fill="#000"/>
<circle cx="267.75" cy="87.05" r="0.95" fill="#000"/>
<circle cx="262.52" cy="92.2" r="0.95" fill="#000"/>
<circle cx="259.72" cy="96.76" r="0.95" fill="#000"/>
<circle cx="271.42" cy="84.81" r="0.95" fill="#000"/>
<circle cx="259.83" cy="95.45" r="0.95" fill="#000"/>
<circle cx="266.08" cy="91.94" r="0.95" fill="#000"/>
<circle cx="266.19" cy="87.85" r="0.95" fill="#000"/>
<circle cx="268.11" cy="91.97" r="0.95" fill="#000"/>
<circle cx="261.45" cy="92.76" r="0.95" fill="#000"/>
<circle cx="259.47" cy="93.49" r="0.95" fill="#000"/>
<circle cx="259.88" cy="94.05" r="0.95" fill="#000"/>
<circle cx="263.3" cy="92.23" r="0.95" fill="#000"/>
<circle cx="261.96" cy="91.65" r="0.95" fill="#000"/>
<circle cx="260.82" cy="85.25" r="0.95" fill="#000"/>
<circle cx="271.98" cy="90.12" r="0.95" fill="#000"/>
<circle cx="260.27" cy="93.76" r="0.95" fill="#000"/>
<circle cx="260.03" cy="99.3" r="0.95" fill="#000"/>
<circle cx="258.65" cy="96.91" r="0.95" fill="#000"/>
<circle cx="266.36" cy="80.64" r="0.95" fill="#000"/>
<circle cx="257.75" cy="94.23" r="0.95" fill="#000"/>
<circle cx="261.1" cy="95.81" r="0.95" fill="#000"/>
<circle cx="261.46" cy="93.85" r="0.95" fill="#000"/>
<circle cx="260.33" cy="96.8" r="0.95" fill="#000"/>
<circle cx="267.81" cy="86.45" r="0.95" fill="#000"/>
<circle cx="269.41" cy="91.17" r="0.95" fill="#000"/>
<circle cx="272.54" cy="83.84" r="0.95" fill="#000"/>
<circle cx="263.88" cy="95.03" r="0.95" fill="#000"/>
<circle cx="307.9" cy="46.2" r="0.95" fill="#000"/>
<circle cx="292.8" cy="65.5" r="0.95" fill="#000"/>
<circle cx="290.5" cy="67.2" r="0.95" fill="#000"/>
<circle cx="277.5" cy="75.8" r="0.95" fill="#000"/>
<circle cx="283" cy="75.6" r="0.95" fill="#000"/>
<circle cx="283.4" cy="77" r="0.95" fill="#000"/>
<circle cx="283.9" cy="78.4" r="0.95" fill="#000"/>
<circle cx="275.5" cy="86.5" r="0.95" fill="#000"/>
<circle cx="276.2" cy="88.5" r="0.95" fill="#000"/>
<circle cx="266" cy="83.5" r="0.95" fill="#000"/>
<circle cx="272.5" cy="81.5" r="0.95" fill="#000"/>
<circle cx="270.5" cy="80.5" r="0.95" fill="#000"/>
<circle cx="273.5" cy="84.5" r="0.95" fill="#000"/>
<rect x="309.4" y="63.4" width="36" height="36.3" stroke="#8a8a8a" stroke-width="0.6" fill="#fff"/>
<line x1="309.4" y1="99.7" x2="345.4" y2="63.4" stroke="#f08a8a" stroke-width="0.5"/>
<circle cx="317.6" cy="92" r="0.55" fill="#111"/>
<circle cx="318.6" cy="94" r="0.55" fill="#111"/>
<circle cx="321.7" cy="88.9" r="0.55" fill="#111"/>
<circle cx="322.7" cy="86.8" r="0.55" fill="#111"/>
<circle cx="323.8" cy="74.5" r="0.55" fill="#111"/>
<circle cx="326.8" cy="73.5" r="0.55" fill="#111"/>
<circle cx="325.8" cy="81.7" r="0.55" fill="#111"/>
<circle cx="324" cy="81.7" r="0.55" fill="#111"/>
<circle cx="327.9" cy="81.7" r="0.55" fill="#111"/>
<circle cx="331" cy="78.6" r="0.55" fill="#111"/>
<circle cx="333" cy="77.2" r="0.55" fill="#111"/>
<circle cx="333" cy="81.7" r="0.55" fill="#111"/>
<circle cx="335" cy="71.4" r="0.55" fill="#111"/>
<circle cx="337.1" cy="70.4" r="0.55" fill="#111"/>
<circle cx="336" cy="69.2" r="0.55" fill="#111"/>
<circle cx="339.2" cy="67.3" r="0.55" fill="#111"/>
<circle cx="341.2" cy="70.4" r="0.55" fill="#111"/>
<circle cx="343.3" cy="67.7" r="0.55" fill="#111"/>
<circle cx="343.3" cy="75.5" r="0.55" fill="#111"/>
<circle cx="340.2" cy="76.6" r="0.55" fill="#111"/>
<circle cx="317.6" cy="85.8" r="0.55" fill="#111"/>
<circle cx="326.8" cy="91" r="0.55" fill="#111"/>
<circle cx="322.7" cy="95" r="0.55" fill="#111"/>
<circle cx="315.5" cy="94" r="0.55" fill="#111"/>
<circle cx="329" cy="79" r="0.55" fill="#111"/>
<circle cx="338.5" cy="73.5" r="0.55" fill="#111"/>
<text x="260.2" y="31.9" font-size="7.2" fill="#000" text-anchor="start" font-weight="bold" textLength="21.6" lengthAdjust="spacingAndGlyphs">AdRoit</text>
<line x1="360.71" y1="98.7" x2="364.21" y2="98.7" stroke="#222" stroke-width="0.7"/>
<line x1="367.2" y1="101.58" x2="367.2" y2="105.18" stroke="#222" stroke-width="0.7"/>
<line x1="360.71" y1="84.3" x2="364.21" y2="84.3" stroke="#222" stroke-width="0.7"/>
<line x1="382.15" y1="101.58" x2="382.15" y2="105.18" stroke="#222" stroke-width="0.7"/>
<line x1="360.71" y1="69.9" x2="364.21" y2="69.9" stroke="#222" stroke-width="0.7"/>
<line x1="397.1" y1="101.58" x2="397.1" y2="105.18" stroke="#222" stroke-width="0.7"/>
<line x1="360.71" y1="55.5" x2="364.21" y2="55.5" stroke="#222" stroke-width="0.7"/>
<line x1="412.05" y1="101.58" x2="412.05" y2="105.18" stroke="#222" stroke-width="0.7"/>
<line x1="360.71" y1="41.1" x2="364.21" y2="41.1" stroke="#222" stroke-width="0.7"/>
<line x1="427" y1="101.58" x2="427" y2="105.18" stroke="#222" stroke-width="0.7"/>
<line x1="360.71" y1="26.7" x2="364.21" y2="26.7" stroke="#222" stroke-width="0.7"/>
<line x1="441.95" y1="101.58" x2="441.95" y2="105.18" stroke="#222" stroke-width="0.7"/>
<text x="354.91" y="98.7" font-size="6.9" fill="#222" text-anchor="middle" font-weight="normal" transform="rotate(-90 354.91 98.7)">0.0</text>
<text x="367.2" y="116.5" font-size="7" fill="#222" text-anchor="middle" font-weight="normal">0.0</text>
<text x="354.91" y="69.9" font-size="6.9" fill="#222" text-anchor="middle" font-weight="normal" transform="rotate(-90 354.91 69.9)">0.2</text>
<text x="397.1" y="116.5" font-size="7" fill="#222" text-anchor="middle" font-weight="normal">0.2</text>
<text x="354.91" y="41.1" font-size="6.9" fill="#222" text-anchor="middle" font-weight="normal" transform="rotate(-90 354.91 41.1)">0.4</text>
<text x="427" y="116.5" font-size="7" fill="#222" text-anchor="middle" font-weight="normal">0.4</text>
<rect x="364.21" y="23.82" width="80.73" height="77.76" stroke="#3a3a3a" stroke-width="1" fill="none"/>
<rect x="366.2" y="91" width="6.4" height="7.6" stroke="#999" stroke-width="0.5" fill="none"/>
<line x1="372.6" y1="91" x2="420.6" y2="62.6" stroke="#999" stroke-width="0.55"/>
<line x1="372.6" y1="98.6" x2="420.6" y2="99.4" stroke="#bbb" stroke-width="0.55" stroke-dasharray="1.2,0.8"/>
<line x1="364.21" y1="101.58" x2="444.94" y2="23.82" stroke="#dd3b35" stroke-width="1.05" stroke-dasharray="3.2,2.2"/>
<circle cx="367.69" cy="97.39" r="0.95" fill="#000"/>
<circle cx="376.25" cy="93.36" r="0.95" fill="#000"/>
<circle cx="375.71" cy="98.01" r="0.95" fill="#000"/>
<circle cx="371.68" cy="93.64" r="0.95" fill="#000"/>
<circle cx="369.01" cy="95.1" r="0.95" fill="#000"/>
<circle cx="369.85" cy="96.24" r="0.95" fill="#000"/>
<circle cx="382.04" cy="91.33" r="0.95" fill="#000"/>
<circle cx="372.13" cy="101.11" r="0.95" fill="#000"/>
<circle cx="382.19" cy="80.46" r="0.95" fill="#000"/>
<circle cx="374.47" cy="94.49" r="0.95" fill="#000"/>
<circle cx="375.22" cy="89.55" r="0.95" fill="#000"/>
<circle cx="368.59" cy="98.42" r="0.95" fill="#000"/>
<circle cx="377.43" cy="82.6" r="0.95" fill="#000"/>
<circle cx="368.69" cy="98.25" r="0.95" fill="#000"/>
<circle cx="372.88" cy="89.76" r="0.95" fill="#000"/>
<circle cx="368.71" cy="96.27" r="0.95" fill="#000"/>
<circle cx="376.33" cy="87.08" r="0.95" fill="#000"/>
<circle cx="364.85" cy="93.93" r="0.95" fill="#000"/>
<circle cx="366.22" cy="96.17" r="0.95" fill="#000"/>
<circle cx="367.58" cy="94.46" r="0.95" fill="#000"/>
<circle cx="378.93" cy="90.05" r="0.95" fill="#000"/>
<circle cx="367.19" cy="95.87" r="0.95" fill="#000"/>
<circle cx="386.6" cy="87.51" r="0.95" fill="#000"/>
<circle cx="369.42" cy="97.2" r="0.95" fill="#000"/>
<circle cx="370.57" cy="93.62" r="0.95" fill="#000"/>
<circle cx="366.05" cy="92.65" r="0.95" fill="#000"/>
<circle cx="370.37" cy="100.41" r="0.95" fill="#000"/>
<circle cx="376.33" cy="90.52" r="0.95" fill="#000"/>
<circle cx="380.15" cy="81.72" r="0.95" fill="#000"/>
<circle cx="380.7" cy="85.76" r="0.95" fill="#000"/>
<circle cx="377.11" cy="84.12" r="0.95" fill="#000"/>
<circle cx="374.41" cy="94.48" r="0.95" fill="#000"/>
<circle cx="367.18" cy="96.59" r="0.95" fill="#000"/>
<circle cx="381.76" cy="80.17" r="0.95" fill="#000"/>
<circle cx="379.32" cy="90.59" r="0.95" fill="#000"/>
<circle cx="378.18" cy="93.39" r="0.95" fill="#000"/>
<circle cx="364.48" cy="93.55" r="0.95" fill="#000"/>
<circle cx="377.6" cy="90.05" r="0.95" fill="#000"/>
<circle cx="376.2" cy="95.54" r="0.95" fill="#000"/>
<circle cx="384.09" cy="82.75" r="0.95" fill="#000"/>
<circle cx="381.53" cy="85.28" r="0.95" fill="#000"/>
<circle cx="375.1" cy="92.94" r="0.95" fill="#000"/>
<circle cx="369.11" cy="93.17" r="0.95" fill="#000"/>
<circle cx="378.24" cy="86.36" r="0.95" fill="#000"/>
<circle cx="380.54" cy="81.76" r="0.95" fill="#000"/>
<circle cx="380.51" cy="90.48" r="0.95" fill="#000"/>
<circle cx="369.27" cy="96.89" r="0.95" fill="#000"/>
<circle cx="374.08" cy="88.99" r="0.95" fill="#000"/>
<circle cx="372.68" cy="89.64" r="0.95" fill="#000"/>
<circle cx="378.96" cy="80.55" r="0.95" fill="#000"/>
<circle cx="368.77" cy="98.47" r="0.95" fill="#000"/>
<circle cx="381.96" cy="84.74" r="0.95" fill="#000"/>
<circle cx="376.63" cy="86.9" r="0.95" fill="#000"/>
<circle cx="370.29" cy="93.24" r="0.95" fill="#000"/>
<circle cx="379.88" cy="93.29" r="0.95" fill="#000"/>
<circle cx="375.63" cy="88.73" r="0.95" fill="#000"/>
<circle cx="374.51" cy="97.34" r="0.95" fill="#000"/>
<circle cx="373.15" cy="91.07" r="0.95" fill="#000"/>
<circle cx="370.38" cy="97.45" r="0.95" fill="#000"/>
<circle cx="383.06" cy="83.04" r="0.95" fill="#000"/>
<circle cx="370.11" cy="97.25" r="0.95" fill="#000"/>
<circle cx="377.72" cy="84.57" r="0.95" fill="#000"/>
<circle cx="373.39" cy="91.88" r="0.95" fill="#000"/>
<circle cx="375.03" cy="97.32" r="0.95" fill="#000"/>
<circle cx="402.1" cy="57.8" r="0.95" fill="#000"/>
<circle cx="399.6" cy="63.9" r="0.95" fill="#000"/>
<circle cx="402.4" cy="63.9" r="0.95" fill="#000"/>
<circle cx="417.7" cy="59.8" r="0.95" fill="#000"/>
<circle cx="377.4" cy="75.1" r="0.95" fill="#000"/>
<circle cx="393.2" cy="73.7" r="0.95" fill="#000"/>
<circle cx="391.8" cy="78.7" r="0.95" fill="#000"/>
<circle cx="383.1" cy="81.6" r="0.95" fill="#000"/>
<circle cx="387.5" cy="83" r="0.95" fill="#000"/>
<circle cx="384.6" cy="86.6" r="0.95" fill="#000"/>
<circle cx="381" cy="93.8" r="0.95" fill="#000"/>
<circle cx="376" cy="98" r="0.95" fill="#000"/>
<circle cx="369.5" cy="86.6" r="0.95" fill="#000"/>
<circle cx="371.6" cy="83.7" r="0.95" fill="#000"/>
<circle cx="376.7" cy="83" r="0.95" fill="#000"/>
<rect x="420.6" y="62.6" width="36.8" height="37.4" stroke="#8a8a8a" stroke-width="0.6" fill="#fff"/>
<line x1="420.6" y1="100" x2="457.4" y2="62.6" stroke="#f08a8a" stroke-width="0.5"/>
<circle cx="439.6" cy="67.9" r="0.55" fill="#111"/>
<circle cx="444.6" cy="66.5" r="0.55" fill="#111"/>
<circle cx="451.1" cy="66.5" r="0.55" fill="#111"/>
<circle cx="455.7" cy="68.9" r="0.55" fill="#111"/>
<circle cx="455.7" cy="72.2" r="0.55" fill="#111"/>
<circle cx="452.5" cy="74.7" r="0.55" fill="#111"/>
<circle cx="446" cy="73.7" r="0.55" fill="#111"/>
<circle cx="425.5" cy="78.7" r="0.55" fill="#111"/>
<circle cx="436.4" cy="80.4" r="0.55" fill="#111"/>
<circle cx="442.2" cy="79.9" r="0.55" fill="#111"/>
<circle cx="442.5" cy="81.6" r="0.55" fill="#111"/>
<circle cx="445.3" cy="82.3" r="0.55" fill="#111"/>
<circle cx="447.5" cy="84.5" r="0.55" fill="#111"/>
<circle cx="449.4" cy="84.2" r="0.55" fill="#111"/>
<circle cx="438.9" cy="84.7" r="0.55" fill="#111"/>
<circle cx="434.5" cy="85.9" r="0.55" fill="#111"/>
<circle cx="435.3" cy="86.6" r="0.55" fill="#111"/>
<circle cx="429.5" cy="88.5" r="0.55" fill="#111"/>
<circle cx="429.2" cy="90.9" r="0.55" fill="#111"/>
<circle cx="434.5" cy="89.9" r="0.55" fill="#111"/>
<circle cx="433.8" cy="94.2" r="0.55" fill="#111"/>
<circle cx="434.5" cy="98.5" r="0.55" fill="#111"/>
<circle cx="447.5" cy="97.7" r="0.55" fill="#111"/>
<text x="369.9" y="32.7" font-size="7.2" fill="#000" text-anchor="start" font-weight="bold" textLength="20.9" lengthAdjust="spacingAndGlyphs">Bisque</text>
<line x1="472.82" y1="98.7" x2="476.32" y2="98.7" stroke="#222" stroke-width="0.7"/>
<line x1="479.3" y1="101.58" x2="479.3" y2="105.18" stroke="#222" stroke-width="0.7"/>
<line x1="472.82" y1="84.3" x2="476.32" y2="84.3" stroke="#222" stroke-width="0.7"/>
<line x1="494.18" y1="101.58" x2="494.18" y2="105.18" stroke="#222" stroke-width="0.7"/>
<line x1="472.82" y1="69.9" x2="476.32" y2="69.9" stroke="#222" stroke-width="0.7"/>
<line x1="509.06" y1="101.58" x2="509.06" y2="105.18" stroke="#222" stroke-width="0.7"/>
<line x1="472.82" y1="55.5" x2="476.32" y2="55.5" stroke="#222" stroke-width="0.7"/>
<line x1="523.94" y1="101.58" x2="523.94" y2="105.18" stroke="#222" stroke-width="0.7"/>
<line x1="472.82" y1="41.1" x2="476.32" y2="41.1" stroke="#222" stroke-width="0.7"/>
<line x1="538.82" y1="101.58" x2="538.82" y2="105.18" stroke="#222" stroke-width="0.7"/>
<line x1="472.82" y1="26.7" x2="476.32" y2="26.7" stroke="#222" stroke-width="0.7"/>
<line x1="553.7" y1="101.58" x2="553.7" y2="105.18" stroke="#222" stroke-width="0.7"/>
<text x="467.02" y="98.7" font-size="6.9" fill="#222" text-anchor="middle" font-weight="normal" transform="rotate(-90 467.02 98.7)">0.0</text>
<text x="479.3" y="116.5" font-size="7" fill="#222" text-anchor="middle" font-weight="normal">0.0</text>
<text x="467.02" y="69.9" font-size="6.9" fill="#222" text-anchor="middle" font-weight="normal" transform="rotate(-90 467.02 69.9)">0.2</text>
<text x="509.06" y="116.5" font-size="7" fill="#222" text-anchor="middle" font-weight="normal">0.2</text>
<text x="467.02" y="41.1" font-size="6.9" fill="#222" text-anchor="middle" font-weight="normal" transform="rotate(-90 467.02 41.1)">0.4</text>
<text x="538.82" y="116.5" font-size="7" fill="#222" text-anchor="middle" font-weight="normal">0.4</text>
<rect x="476.32" y="23.82" width="80.35" height="77.76" stroke="#3a3a3a" stroke-width="1" fill="none"/>
<rect x="479.2" y="91" width="6.8" height="7.6" stroke="#999" stroke-width="0.5" fill="none"/>
<line x1="486" y1="91" x2="532.4" y2="62.6" stroke="#999" stroke-width="0.55"/>
<line x1="486" y1="98.6" x2="532.4" y2="96.2" stroke="#bbb" stroke-width="0.55" stroke-dasharray="1.2,0.8"/>
<line x1="476.32" y1="101.58" x2="556.68" y2="23.82" stroke="#dd3b35" stroke-width="1.05" stroke-dasharray="3.2,2.2"/>
<circle cx="483.99" cy="90.69" r="0.95" fill="#000"/>
<circle cx="491.94" cy="83.14" r="0.95" fill="#000"/>
<circle cx="492.9" cy="89.74" r="0.95" fill="#000"/>
<circle cx="478.39" cy="95.65" r="0.95" fill="#000"/>
<circle cx="484.78" cy="96.03" r="0.95" fill="#000"/>
<circle cx="494.03" cy="80.6" r="0.95" fill="#000"/>
<circle cx="483.97" cy="91.81" r="0.95" fill="#000"/>
<circle cx="494.5" cy="86.53" r="0.95" fill="#000"/>
<circle cx="482.46" cy="90.7" r="0.95" fill="#000"/>
<circle cx="487.43" cy="92.75" r="0.95" fill="#000"/>
<circle cx="487.95" cy="95.04" r="0.95" fill="#000"/>
<circle cx="496.65" cy="88.91" r="0.95" fill="#000"/>
<circle cx="493.27" cy="84.99" r="0.95" fill="#000"/>
<circle cx="495.95" cy="84.77" r="0.95" fill="#000"/>
<circle cx="499.33" cy="85.47" r="0.95" fill="#000"/>
<circle cx="497.66" cy="88.99" r="0.95" fill="#000"/>
<circle cx="490.5" cy="88.85" r="0.95" fill="#000"/>
<circle cx="487.83" cy="86.57" r="0.95" fill="#000"/>
<circle cx="488.24" cy="86.83" r="0.95" fill="#000"/>
<circle cx="493.74" cy="85.33" r="0.95" fill="#000"/>
<circle cx="494.21" cy="87.61" r="0.95" fill="#000"/>
<circle cx="481.45" cy="96.56" r="0.95" fill="#000"/>
<circle cx="486.72" cy="89.68" r="0.95" fill="#000"/>
<circle cx="486.69" cy="83.93" r="0.95" fill="#000"/>
<circle cx="478.63" cy="96.27" r="0.95" fill="#000"/>
<circle cx="491.46" cy="90.16" r="0.95" fill="#000"/>
<circle cx="488.84" cy="93.08" r="0.95" fill="#000"/>
<circle cx="490.44" cy="89.58" r="0.95" fill="#000"/>
<circle cx="486.35" cy="93.73" r="0.95" fill="#000"/>
<circle cx="488.12" cy="87.71" r="0.95" fill="#000"/>
<circle cx="484.71" cy="94.1" r="0.95" fill="#000"/>
<circle cx="494.6" cy="85.7" r="0.95" fill="#000"/>
<circle cx="484.55" cy="90.91" r="0.95" fill="#000"/>
<circle cx="492.65" cy="84.47" r="0.95" fill="#000"/>
<circle cx="494.62" cy="84.34" r="0.95" fill="#000"/>
<circle cx="493.43" cy="93.4" r="0.95" fill="#000"/>
<circle cx="493.25" cy="82.71" r="0.95" fill="#000"/>
<circle cx="483.63" cy="97.67" r="0.95" fill="#000"/>
<circle cx="487.95" cy="93.46" r="0.95" fill="#000"/>
<circle cx="491.29" cy="87.92" r="0.95" fill="#000"/>
<circle cx="483.47" cy="96.98" r="0.95" fill="#000"/>
<circle cx="493.93" cy="91.77" r="0.95" fill="#000"/>
<circle cx="491.65" cy="88.87" r="0.95" fill="#000"/>
<circle cx="489.94" cy="96.63" r="0.95" fill="#000"/>
<circle cx="480.19" cy="93.58" r="0.95" fill="#000"/>
<circle cx="491.83" cy="88.42" r="0.95" fill="#000"/>
<circle cx="484.1" cy="96.14" r="0.95" fill="#000"/>
<circle cx="494.99" cy="81.08" r="0.95" fill="#000"/>
<circle cx="488" cy="91.5" r="0.95" fill="#000"/>
<circle cx="487.47" cy="91.24" r="0.95" fill="#000"/>
<circle cx="488.92" cy="82.77" r="0.95" fill="#000"/>
<circle cx="495.33" cy="84.04" r="0.95" fill="#000"/>
<circle cx="491.98" cy="81.54" r="0.95" fill="#000"/>
<circle cx="489.27" cy="83.1" r="0.95" fill="#000"/>
<circle cx="481.79" cy="95.48" r="0.95" fill="#000"/>
<circle cx="529.7" cy="37.9" r="0.95" fill="#000"/>
<circle cx="514.3" cy="59.5" r="0.95" fill="#000"/>
<circle cx="511.8" cy="63.1" r="0.95" fill="#000"/>
<circle cx="514.6" cy="68.8" r="0.95" fill="#000"/>
<circle cx="487.8" cy="71.8" r="0.95" fill="#000"/>
<circle cx="495.1" cy="70.8" r="0.95" fill="#000"/>
<circle cx="503.3" cy="71.5" r="0.95" fill="#000"/>
<circle cx="504.5" cy="73.2" r="0.95" fill="#000"/>
<circle cx="499" cy="75.8" r="0.95" fill="#000"/>
<circle cx="489" cy="77.3" r="0.95" fill="#000"/>
<circle cx="493.6" cy="79.4" r="0.95" fill="#000"/>
<circle cx="505.5" cy="80.1" r="0.95" fill="#000"/>
<circle cx="489.7" cy="82.3" r="0.95" fill="#000"/>
<circle cx="497.3" cy="97.7" r="0.95" fill="#000"/>
<circle cx="488.7" cy="98.6" r="0.95" fill="#000"/>
<circle cx="492.5" cy="93.1" r="0.95" fill="#000"/>
<rect x="532.4" y="62.6" width="36.3" height="34.2" stroke="#8a8a8a" stroke-width="0.6" fill="#fff"/>
<line x1="532.4" y1="96.8" x2="568.7" y2="62.6" stroke="#f08a8a" stroke-width="0.5"/>
<circle cx="558" cy="65.5" r="0.55" fill="#111"/>
<circle cx="562.4" cy="68.9" r="0.55" fill="#111"/>
<circle cx="567.1" cy="64" r="0.55" fill="#111"/>
<circle cx="545.1" cy="67.9" r="0.55" fill="#111"/>
<circle cx="547.3" cy="69.4" r="0.55" fill="#111"/>
<circle cx="545.8" cy="73.7" r="0.55" fill="#111"/>
<circle cx="548" cy="72.2" r="0.55" fill="#111"/>
<circle cx="550.9" cy="71.5" r="0.55" fill="#111"/>
<circle cx="554.5" cy="75.5" r="0.55" fill="#111"/>
<circle cx="555.2" cy="77.3" r="0.55" fill="#111"/>
<circle cx="553" cy="82.7" r="0.55" fill="#111"/>
<circle cx="551.3" cy="83.7" r="0.55" fill="#111"/>
<circle cx="543.7" cy="84.5" r="0.55" fill="#111"/>
<circle cx="543.2" cy="87.3" r="0.55" fill="#111"/>
<circle cx="544.4" cy="89.9" r="0.55" fill="#111"/>
<circle cx="544.4" cy="91.4" r="0.55" fill="#111"/>
<circle cx="547.3" cy="92.4" r="0.55" fill="#111"/>
<circle cx="558.8" cy="88.8" r="0.55" fill="#111"/>
<circle cx="562.4" cy="88.8" r="0.55" fill="#111"/>
<circle cx="539.4" cy="93.8" r="0.55" fill="#111"/>
<circle cx="536.5" cy="94.2" r="0.55" fill="#111"/>
<circle cx="540.1" cy="96" r="0.55" fill="#111"/>
<circle cx="548" cy="96" r="0.55" fill="#111"/>
<circle cx="550.9" cy="96" r="0.55" fill="#111"/>
<circle cx="552.4" cy="96" r="0.55" fill="#111"/>
<circle cx="557.3" cy="96" r="0.55" fill="#111"/>
<circle cx="558.8" cy="96" r="0.55" fill="#111"/>
<text x="482.2" y="33.2" font-size="7.2" fill="#000" text-anchor="start" font-weight="bold" textLength="20" lengthAdjust="spacingAndGlyphs">MuSiC</text>
<line x1="582.11" y1="98.7" x2="585.61" y2="98.7" stroke="#222" stroke-width="0.7"/>
<line x1="588.6" y1="101.58" x2="588.6" y2="105.18" stroke="#222" stroke-width="0.7"/>
<line x1="582.11" y1="84.3" x2="585.61" y2="84.3" stroke="#222" stroke-width="0.7"/>
<line x1="603.55" y1="101.58" x2="603.55" y2="105.18" stroke="#222" stroke-width="0.7"/>
<line x1="582.11" y1="69.9" x2="585.61" y2="69.9" stroke="#222" stroke-width="0.7"/>
<line x1="618.5" y1="101.58" x2="618.5" y2="105.18" stroke="#222" stroke-width="0.7"/>
<line x1="582.11" y1="55.5" x2="585.61" y2="55.5" stroke="#222" stroke-width="0.7"/>
<line x1="633.45" y1="101.58" x2="633.45" y2="105.18" stroke="#222" stroke-width="0.7"/>
<line x1="582.11" y1="41.1" x2="585.61" y2="41.1" stroke="#222" stroke-width="0.7"/>
<line x1="648.4" y1="101.58" x2="648.4" y2="105.18" stroke="#222" stroke-width="0.7"/>
<line x1="582.11" y1="26.7" x2="585.61" y2="26.7" stroke="#222" stroke-width="0.7"/>
<line x1="663.35" y1="101.58" x2="663.35" y2="105.18" stroke="#222" stroke-width="0.7"/>
<text x="576.31" y="98.7" font-size="6.9" fill="#222" text-anchor="middle" font-weight="normal" transform="rotate(-90 576.31 98.7)">0.0</text>
<text x="588.6" y="116.5" font-size="7" fill="#222" text-anchor="middle" font-weight="normal">0.0</text>
<text x="576.31" y="69.9" font-size="6.9" fill="#222" text-anchor="middle" font-weight="normal" transform="rotate(-90 576.31 69.9)">0.2</text>
<text x="618.5" y="116.5" font-size="7" fill="#222" text-anchor="middle" font-weight="normal">0.2</text>
<text x="576.31" y="41.1" font-size="6.9" fill="#222" text-anchor="middle" font-weight="normal" transform="rotate(-90 576.31 41.1)">0.4</text>
<text x="648.4" y="116.5" font-size="7" fill="#222" text-anchor="middle" font-weight="normal">0.4</text>
<rect x="585.61" y="23.82" width="80.73" height="77.76" stroke="#3a3a3a" stroke-width="1" fill="none"/>
<rect x="588.6" y="91" width="6.4" height="7.6" stroke="#999" stroke-width="0.5" fill="none"/>
<line x1="595" y1="91" x2="642.2" y2="64.2" stroke="#999" stroke-width="0.55"/>
<line x1="595" y1="98.6" x2="642.2" y2="99.2" stroke="#bbb" stroke-width="0.55" stroke-dasharray="1.2,0.8"/>
<line x1="585.61" y1="101.58" x2="666.34" y2="23.82" stroke="#dd3b35" stroke-width="1.05" stroke-dasharray="3.2,2.2"/>
<circle cx="591.69" cy="96.67" r="0.95" fill="#000"/>
<circle cx="600.43" cy="82.9" r="0.95" fill="#000"/>
<circle cx="600.86" cy="84.99" r="0.95" fill="#000"/>
<circle cx="595.06" cy="91.3" r="0.95" fill="#000"/>
<circle cx="595.08" cy="97.23" r="0.95" fill="#000"/>
<circle cx="602.69" cy="84.68" r="0.95" fill="#000"/>
<circle cx="596.95" cy="88.35" r="0.95" fill="#000"/>
<circle cx="590.43" cy="97.93" r="0.95" fill="#000"/>
<circle cx="595.91" cy="88.33" r="0.95" fill="#000"/>
<circle cx="599.76" cy="86.51" r="0.95" fill="#000"/>
<circle cx="588.1" cy="92.67" r="0.95" fill="#000"/>
<circle cx="595.38" cy="93.13" r="0.95" fill="#000"/>
<circle cx="599.74" cy="86.28" r="0.95" fill="#000"/>
<circle cx="594.85" cy="85.31" r="0.95" fill="#000"/>
<circle cx="597.23" cy="90.77" r="0.95" fill="#000"/>
<circle cx="593.19" cy="89.41" r="0.95" fill="#000"/>
<circle cx="596.17" cy="92.17" r="0.95" fill="#000"/>
<circle cx="597.37" cy="91.7" r="0.95" fill="#000"/>
<circle cx="597.07" cy="80.21" r="0.95" fill="#000"/>
<circle cx="599.3" cy="92.91" r="0.95" fill="#000"/>
<circle cx="589.52" cy="92.17" r="0.95" fill="#000"/>
<circle cx="603.29" cy="87.82" r="0.95" fill="#000"/>
<circle cx="596.15" cy="92.33" r="0.95" fill="#000"/>
<circle cx="600.63" cy="87.16" r="0.95" fill="#000"/>
<circle cx="596.62" cy="78.97" r="0.95" fill="#000"/>
<circle cx="595.77" cy="91.62" r="0.95" fill="#000"/>
<circle cx="602.48" cy="83.77" r="0.95" fill="#000"/>
<circle cx="594.16" cy="91.76" r="0.95" fill="#000"/>
<circle cx="595.71" cy="92.09" r="0.95" fill="#000"/>
<circle cx="594.08" cy="91.41" r="0.95" fill="#000"/>
<circle cx="594.54" cy="88.6" r="0.95" fill="#000"/>
<circle cx="600.28" cy="83.49" r="0.95" fill="#000"/>
<circle cx="595.86" cy="90.8" r="0.95" fill="#000"/>
<circle cx="595.62" cy="95.45" r="0.95" fill="#000"/>
<circle cx="594.11" cy="92.46" r="0.95" fill="#000"/>
<circle cx="600.3" cy="85.51" r="0.95" fill="#000"/>
<circle cx="596.94" cy="90.86" r="0.95" fill="#000"/>
<circle cx="597.72" cy="90.95" r="0.95" fill="#000"/>
<circle cx="600.29" cy="89.72" r="0.95" fill="#000"/>
<circle cx="602.57" cy="88.17" r="0.95" fill="#000"/>
<circle cx="599.53" cy="84" r="0.95" fill="#000"/>
<circle cx="591" cy="94.93" r="0.95" fill="#000"/>
<circle cx="614.3" cy="55.4" r="0.95" fill="#000"/>
<circle cx="606" cy="60.1" r="0.95" fill="#000"/>
<circle cx="602.7" cy="62.3" r="0.95" fill="#000"/>
<circle cx="603.6" cy="65.5" r="0.95" fill="#000"/>
<circle cx="590.8" cy="78" r="0.95" fill="#000"/>
<circle cx="592.9" cy="79.4" r="0.95" fill="#000"/>
<circle cx="595.8" cy="78.7" r="0.95" fill="#000"/>
<circle cx="597.2" cy="80.1" r="0.95" fill="#000"/>
<circle cx="599.4" cy="78" r="0.95" fill="#000"/>
<circle cx="600.8" cy="77.3" r="0.95" fill="#000"/>
<circle cx="603" cy="77.3" r="0.95" fill="#000"/>
<circle cx="594.4" cy="81.6" r="0.95" fill="#000"/>
<circle cx="590" cy="84.5" r="0.95" fill="#000"/>
<circle cx="591.5" cy="86.6" r="0.95" fill="#000"/>
<circle cx="593.6" cy="85.2" r="0.95" fill="#000"/>
<circle cx="595.5" cy="86.5" r="0.95" fill="#000"/>
<circle cx="597.5" cy="87.3" r="0.95" fill="#000"/>
<circle cx="599.5" cy="85.8" r="0.95" fill="#000"/>
<circle cx="602.3" cy="84.5" r="0.95" fill="#000"/>
<circle cx="603.7" cy="86.6" r="0.95" fill="#000"/>
<circle cx="604.5" cy="88" r="0.95" fill="#000"/>
<circle cx="605.9" cy="90.2" r="0.95" fill="#000"/>
<circle cx="607.3" cy="90.9" r="0.95" fill="#000"/>
<circle cx="612.3" cy="91.4" r="0.95" fill="#000"/>
<circle cx="598.7" cy="92.4" r="0.95" fill="#000"/>
<circle cx="599.4" cy="93.8" r="0.95" fill="#000"/>
<circle cx="592.2" cy="89.5" r="0.95" fill="#000"/>
<circle cx="593" cy="91.5" r="0.95" fill="#000"/>
<circle cx="595.1" cy="98.1" r="0.95" fill="#000"/>
<circle cx="596.6" cy="98.1" r="0.95" fill="#000"/>
<circle cx="598.1" cy="98.1" r="0.95" fill="#000"/>
<circle cx="599.6" cy="98.1" r="0.95" fill="#000"/>
<circle cx="601.5" cy="98.1" r="0.95" fill="#000"/>
<circle cx="615.2" cy="98.1" r="0.95" fill="#000"/>
<circle cx="621.7" cy="98.1" r="0.95" fill="#000"/>
<circle cx="623.6" cy="98.1" r="0.95" fill="#000"/>
<circle cx="639" cy="94.2" r="0.95" fill="#000"/>
<rect x="642.2" y="64.2" width="36.2" height="35.6" stroke="#8a8a8a" stroke-width="0.6" fill="#fff"/>
<line x1="642.2" y1="99.8" x2="678.4" y2="64.2" stroke="#f08a8a" stroke-width="0.5"/>
<circle cx="659.9" cy="66.8" r="0.55" fill="#111"/>
<circle cx="668.1" cy="66.8" r="0.55" fill="#111"/>
<circle cx="666.6" cy="71.3" r="0.55" fill="#111"/>
<circle cx="659.9" cy="75.8" r="0.55" fill="#111"/>
<circle cx="655.8" cy="83.8" r="0.55" fill="#111"/>
<circle cx="665.9" cy="84.1" r="0.55" fill="#111"/>
<circle cx="659.1" cy="89.4" r="0.55" fill="#111"/>
<circle cx="656.8" cy="95" r="0.55" fill="#111"/>
<circle cx="657.6" cy="94.2" r="0.55" fill="#111"/>
<circle cx="650.8" cy="98.4" r="0.55" fill="#111"/>
<circle cx="655.3" cy="98.4" r="0.55" fill="#111"/>
<circle cx="670.4" cy="98.4" r="0.55" fill="#111"/>
<circle cx="673.4" cy="98.4" r="0.55" fill="#111"/>
<text x="594" y="34.3" font-size="7.2" fill="#000" text-anchor="start" font-weight="bold" textLength="29.8" lengthAdjust="spacingAndGlyphs">SPOTlight</text>
<text x="214.2" y="163.2" font-size="13.5" fill="#000" text-anchor="start" font-weight="normal">c</text>
<line x1="247.8" y1="159" x2="247.8" y2="160.9" stroke="#1c1cf0" stroke-width="0.9"/>
<line x1="247.8" y1="166.4" x2="247.8" y2="168.8" stroke="#1c1cf0" stroke-width="0.9"/>
<rect x="243.2" y="160.9" width="9.2" height="5.5" stroke="#1c1cf0" stroke-width="0.9" fill="none"/>
<line x1="243.2" y1="163.7" x2="252.4" y2="163.7" stroke="#1c1cf0" stroke-width="0.9"/>
<text x="257.2" y="166.3" font-size="5.8" fill="#444" text-anchor="start" font-weight="normal">AdRoit</text>
<line x1="283.6" y1="159" x2="283.6" y2="160.9" stroke="#c2c2c2" stroke-width="0.9"/>
<line x1="283.6" y1="166.4" x2="283.6" y2="168.8" stroke="#c2c2c2" stroke-width="0.9"/>
<rect x="279" y="160.9" width="9.2" height="5.5" stroke="#c2c2c2" stroke-width="0.9" fill="none"/>
<line x1="279" y1="163.7" x2="288.2" y2="163.7" stroke="#c2c2c2" stroke-width="0.9"/>
<text x="293" y="166.3" font-size="5.8" fill="#444" text-anchor="start" font-weight="normal">Bisque</text>
<line x1="320.4" y1="159" x2="320.4" y2="160.9" stroke="#f3b244" stroke-width="0.9"/>
<line x1="320.4" y1="166.4" x2="320.4" y2="168.8" stroke="#f3b244" stroke-width="0.9"/>
<rect x="315.8" y="160.9" width="9.2" height="5.5" stroke="#f3b244" stroke-width="0.9" fill="none"/>
<line x1="315.8" y1="163.7" x2="325" y2="163.7" stroke="#f3b244" stroke-width="0.9"/>
<text x="329.8" y="166.3" font-size="5.8" fill="#444" text-anchor="start" font-weight="normal">MuSiC</text>
<line x1="356.6" y1="159" x2="356.6" y2="160.9" stroke="#f7b8c8" stroke-width="0.9"/>
<line x1="356.6" y1="166.4" x2="356.6" y2="168.8" stroke="#f7b8c8" stroke-width="0.9"/>
<rect x="352" y="160.9" width="9.2" height="5.5" stroke="#f7b8c8" stroke-width="0.9" fill="none"/>
<line x1="352" y1="163.7" x2="361.2" y2="163.7" stroke="#f7b8c8" stroke-width="0.9"/>
<text x="366" y="166.3" font-size="5.8" fill="#444" text-anchor="start" font-weight="normal">SPOTlight</text>
<line x1="238" y1="186.5" x2="238" y2="289.4" stroke="#6e6e6e" stroke-width="0.8"/>
<line x1="237.6" y1="289.4" x2="330.4" y2="289.4" stroke="#6e6e6e" stroke-width="0.8"/>
<line x1="236.2" y1="266.5" x2="238" y2="266.5" stroke="#666" stroke-width="0.6"/>
<text x="235.3" y="268.15" font-size="4.65" fill="#707070" text-anchor="end" font-weight="normal">0.02</text>
<line x1="236.2" y1="236.9" x2="238" y2="236.9" stroke="#666" stroke-width="0.6"/>
<text x="235.3" y="238.55" font-size="4.65" fill="#707070" text-anchor="end" font-weight="normal">0.04</text>
<line x1="236.2" y1="207.3" x2="238" y2="207.3" stroke="#666" stroke-width="0.6"/>
<text x="235.3" y="208.95" font-size="4.65" fill="#707070" text-anchor="end" font-weight="normal">0.06</text>
<line x1="251.5" y1="289.4" x2="251.5" y2="292" stroke="#6e6e6e" stroke-width="0.6"/>
<line x1="273.3" y1="289.4" x2="273.3" y2="292" stroke="#6e6e6e" stroke-width="0.6"/>
<line x1="295.3" y1="289.4" x2="295.3" y2="292" stroke="#6e6e6e" stroke-width="0.6"/>
<line x1="317" y1="289.4" x2="317" y2="292" stroke="#6e6e6e" stroke-width="0.6"/>
<text x="224.3" y="238.35" font-size="7" fill="#222" text-anchor="middle" font-weight="normal" transform="rotate(-90 224.3 238.35)">mAD</text>
<path d="M251.5,276.5 L273.3,277.4 L295.3,265.2 L317,203" stroke="#bdbdbd" stroke-width="0.6" fill="none" stroke-dasharray="1.8,1.2"/>
<path d="M251.5,274.2 L273.3,257.8 L295.3,238.6 L317,191.3" stroke="#bdbdbd" stroke-width="0.6" fill="none" stroke-dasharray="1.8,1.2"/>
<path d="M251.5,281.8 L273.3,259.6 L295.3,246.7 L317,200.1" stroke="#bdbdbd" stroke-width="0.6" fill="none" stroke-dasharray="1.8,1.2"/>
<path d="M251.5,284.5 L273.3,263.1 L295.3,252.3 L317,212.5" stroke="#bdbdbd" stroke-width="0.6" fill="none" stroke-dasharray="1.8,1.2"/>
<path d="M251.5,276 L273.3,262 L295.3,267.8 L317,201.6" stroke="#bdbdbd" stroke-width="0.6" fill="none" stroke-dasharray="1.8,1.2"/>
<line x1="251.5" y1="274.2" x2="251.5" y2="276.9" stroke="#1c1cf0" stroke-width="0.8"/>
<line x1="251.5" y1="282.1" x2="251.5" y2="284.5" stroke="#1c1cf0" stroke-width="0.8"/>
<rect x="243.2" y="276.9" width="16.6" height="5.2" stroke="#1c1cf0" stroke-width="0.8" fill="none"/>
<line x1="243.2" y1="282.1" x2="259.8" y2="282.1" stroke="#1c1cf0" stroke-width="1.35"/>
<circle cx="251.5" cy="274.2" r="1.25" fill="#000"/>
<circle cx="251.5" cy="276.5" r="1.25" fill="#000"/>
<circle cx="251.5" cy="281.8" r="1.25" fill="#000"/>
<circle cx="251.5" cy="284.5" r="1.25" fill="#000"/>
<line x1="273.3" y1="257.8" x2="273.3" y2="260.5" stroke="#c2c2c2" stroke-width="0.8"/>
<line x1="273.3" y1="264" x2="273.3" y2="264" stroke="#c2c2c2" stroke-width="0.8"/>
<rect x="265" y="260.5" width="16.6" height="3.5" stroke="#c2c2c2" stroke-width="0.8" fill="none"/>
<line x1="265" y1="262.4" x2="281.6" y2="262.4" stroke="#c2c2c2" stroke-width="1.35"/>
<circle cx="273.3" cy="257.8" r="1.25" fill="#000"/>
<circle cx="273.3" cy="259.6" r="1.25" fill="#000"/>
<circle cx="273.3" cy="263.1" r="1.25" fill="#000"/>
<circle cx="273.3" cy="277.4" r="1.25" fill="#000"/>
<line x1="295.3" y1="238.6" x2="295.3" y2="246.7" stroke="#f3b244" stroke-width="0.8"/>
<line x1="295.3" y1="265.1" x2="295.3" y2="267.8" stroke="#f3b244" stroke-width="0.8"/>
<rect x="287" y="246.7" width="16.6" height="18.4" stroke="#f3b244" stroke-width="0.8" fill="none"/>
<line x1="287" y1="252.3" x2="303.6" y2="252.3" stroke="#f3b244" stroke-width="1.35"/>
<circle cx="295.3" cy="238.6" r="1.25" fill="#000"/>
<circle cx="295.3" cy="246.3" r="1.25" fill="#000"/>
<circle cx="295.3" cy="251.6" r="1.25" fill="#000"/>
<circle cx="295.3" cy="265.2" r="1.25" fill="#000"/>
<circle cx="295.3" cy="267.8" r="1.25" fill="#000"/>
<line x1="317" y1="191.3" x2="317" y2="200.1" stroke="#f7b8c8" stroke-width="0.8"/>
<line x1="317" y1="212.5" x2="317" y2="212.5" stroke="#f7b8c8" stroke-width="0.8"/>
<rect x="308.7" y="200.1" width="16.6" height="12.4" stroke="#f7b8c8" stroke-width="0.8" fill="none"/>
<line x1="308.7" y1="202.4" x2="325.3" y2="202.4" stroke="#f7b8c8" stroke-width="1.35"/>
<circle cx="317" cy="191.3" r="1.25" fill="#000"/>
<circle cx="317" cy="200.1" r="1.25" fill="#000"/>
<circle cx="317" cy="201.6" r="1.25" fill="#000"/>
<circle cx="317" cy="203" r="1.25" fill="#000"/>
<circle cx="317" cy="212.5" r="1.25" fill="#000"/>
<line x1="359.4" y1="186.5" x2="359.4" y2="289.4" stroke="#6e6e6e" stroke-width="0.8"/>
<line x1="359" y1="289.4" x2="449.5" y2="289.4" stroke="#6e6e6e" stroke-width="0.8"/>
<line x1="357.6" y1="269.4" x2="359.4" y2="269.4" stroke="#666" stroke-width="0.6"/>
<text x="356.7" y="271.05" font-size="4.65" fill="#707070" text-anchor="end" font-weight="normal">0.025</text>
<line x1="357.6" y1="243.9" x2="359.4" y2="243.9" stroke="#666" stroke-width="0.6"/>
<text x="356.7" y="245.55" font-size="4.65" fill="#707070" text-anchor="end" font-weight="normal">0.050</text>
<line x1="357.6" y1="218.4" x2="359.4" y2="218.4" stroke="#666" stroke-width="0.6"/>
<text x="356.7" y="220.05" font-size="4.65" fill="#707070" text-anchor="end" font-weight="normal">0.075</text>
<line x1="357.6" y1="193.4" x2="359.4" y2="193.4" stroke="#666" stroke-width="0.6"/>
<text x="356.7" y="195.05" font-size="4.65" fill="#707070" text-anchor="end" font-weight="normal">0.100</text>
<line x1="372.1" y1="289.4" x2="372.1" y2="292" stroke="#6e6e6e" stroke-width="0.6"/>
<line x1="393.8" y1="289.4" x2="393.8" y2="292" stroke="#6e6e6e" stroke-width="0.6"/>
<line x1="415.1" y1="289.4" x2="415.1" y2="292" stroke="#6e6e6e" stroke-width="0.6"/>
<line x1="436.4" y1="289.4" x2="436.4" y2="292" stroke="#6e6e6e" stroke-width="0.6"/>
<text x="342.7" y="238.35" font-size="7" fill="#222" text-anchor="middle" font-weight="normal" transform="rotate(-90 342.7 238.35)">RMSD</text>
<path d="M372.1,276.2 L393.8,277.7 L415.1,269.5 L436.4,212.3" stroke="#bdbdbd" stroke-width="0.6" fill="none" stroke-dasharray="1.8,1.2"/>
<path d="M372.1,274.1 L393.8,258.6 L415.1,246.3 L436.4,189.9" stroke="#bdbdbd" stroke-width="0.6" fill="none" stroke-dasharray="1.8,1.2"/>
<path d="M372.1,281.3 L393.8,261.4 L415.1,256.5 L436.4,204.2" stroke="#bdbdbd" stroke-width="0.6" fill="none" stroke-dasharray="1.8,1.2"/>
<path d="M372.1,285 L393.8,263.5 L415.1,267.2 L436.4,205.7" stroke="#bdbdbd" stroke-width="0.6" fill="none" stroke-dasharray="1.8,1.2"/>
<path d="M372.1,276.5 L393.8,265.6 L415.1,256.5 L436.4,219.4" stroke="#bdbdbd" stroke-width="0.6" fill="none" stroke-dasharray="1.8,1.2"/>
<line x1="372.1" y1="274.1" x2="372.1" y2="277.2" stroke="#1c1cf0" stroke-width="0.8"/>
<line x1="372.1" y1="282.4" x2="372.1" y2="285" stroke="#1c1cf0" stroke-width="0.8"/>
<rect x="363.8" y="277.2" width="16.6" height="5.2" stroke="#1c1cf0" stroke-width="0.8" fill="none"/>
<line x1="363.8" y1="282.4" x2="380.4" y2="282.4" stroke="#1c1cf0" stroke-width="1.35"/>
<circle cx="372.1" cy="274.1" r="1.25" fill="#000"/>
<circle cx="372.1" cy="276.2" r="1.25" fill="#000"/>
<circle cx="372.1" cy="281.3" r="1.25" fill="#000"/>
<circle cx="372.1" cy="285" r="1.25" fill="#000"/>
<line x1="393.8" y1="258.6" x2="393.8" y2="261.8" stroke="#c2c2c2" stroke-width="0.8"/>
<line x1="393.8" y1="266.1" x2="393.8" y2="266.1" stroke="#c2c2c2" stroke-width="0.8"/>
<rect x="385.5" y="261.8" width="16.6" height="4.3" stroke="#c2c2c2" stroke-width="0.8" fill="none"/>
<line x1="385.5" y1="263.5" x2="402.1" y2="263.5" stroke="#c2c2c2" stroke-width="1.35"/>
<circle cx="393.8" cy="258.6" r="1.25" fill="#000"/>
<circle cx="393.8" cy="261.4" r="1.25" fill="#000"/>
<circle cx="393.8" cy="263.5" r="1.25" fill="#000"/>
<circle cx="393.8" cy="265.6" r="1.25" fill="#000"/>
<circle cx="393.8" cy="277.7" r="1.25" fill="#000"/>
<line x1="415.1" y1="246.3" x2="415.1" y2="246.3" stroke="#f3b244" stroke-width="0.8"/>
<line x1="415.1" y1="268.6" x2="415.1" y2="269.5" stroke="#f3b244" stroke-width="0.8"/>
<rect x="406.8" y="246.3" width="16.6" height="22.3" stroke="#f3b244" stroke-width="0.8" fill="none"/>
<line x1="406.8" y1="256.5" x2="423.4" y2="256.5" stroke="#f3b244" stroke-width="1.35"/>
<circle cx="415.1" cy="246.3" r="1.25" fill="#000"/>
<circle cx="415.1" cy="256.5" r="1.25" fill="#000"/>
<circle cx="415.1" cy="267.2" r="1.25" fill="#000"/>
<circle cx="415.1" cy="269.5" r="1.25" fill="#000"/>
<line x1="436.4" y1="189.9" x2="436.4" y2="204.2" stroke="#f7b8c8" stroke-width="0.8"/>
<line x1="436.4" y1="212.5" x2="436.4" y2="219.4" stroke="#f7b8c8" stroke-width="0.8"/>
<rect x="428.1" y="204.2" width="16.6" height="8.3" stroke="#f7b8c8" stroke-width="0.8" fill="none"/>
<line x1="428.1" y1="205" x2="444.7" y2="205" stroke="#f7b8c8" stroke-width="1.35"/>
<circle cx="436.4" cy="189.9" r="1.25" fill="#000"/>
<circle cx="436.4" cy="204.2" r="1.25" fill="#000"/>
<circle cx="436.4" cy="205.7" r="1.25" fill="#000"/>
<circle cx="436.4" cy="212.3" r="1.25" fill="#000"/>
<circle cx="436.4" cy="219.4" r="1.25" fill="#000"/>
<line x1="473" y1="186.5" x2="473" y2="289.4" stroke="#6e6e6e" stroke-width="0.8"/>
<line x1="472.6" y1="289.4" x2="567.8" y2="289.4" stroke="#6e6e6e" stroke-width="0.8"/>
<line x1="471.2" y1="262.5" x2="473" y2="262.5" stroke="#666" stroke-width="0.6"/>
<text x="470.3" y="264.15" font-size="4.65" fill="#707070" text-anchor="end" font-weight="normal">0.0</text>
<line x1="471.2" y1="226.2" x2="473" y2="226.2" stroke="#666" stroke-width="0.6"/>
<text x="470.3" y="227.85" font-size="4.65" fill="#707070" text-anchor="end" font-weight="normal">0.5</text>
<line x1="471.2" y1="189.9" x2="473" y2="189.9" stroke="#666" stroke-width="0.6"/>
<text x="470.3" y="191.55" font-size="4.65" fill="#707070" text-anchor="end" font-weight="normal">1.0</text>
<line x1="486.2" y1="289.4" x2="486.2" y2="292" stroke="#6e6e6e" stroke-width="0.6"/>
<line x1="509" y1="289.4" x2="509" y2="292" stroke="#6e6e6e" stroke-width="0.6"/>
<line x1="531.6" y1="289.4" x2="531.6" y2="292" stroke="#6e6e6e" stroke-width="0.6"/>
<line x1="554.4" y1="289.4" x2="554.4" y2="292" stroke="#6e6e6e" stroke-width="0.6"/>
<text x="461.6" y="238.35" font-size="7" fill="#222" text-anchor="middle" font-weight="normal" transform="rotate(-90 461.6 238.35)">Pearson</text>
<path d="M486.2,196.4 L509,207.7 L531.6,218.6 L554.4,270.5" stroke="#bdbdbd" stroke-width="0.6" fill="none" stroke-dasharray="1.8,1.2"/>
<path d="M486.2,189.8 L509,193.4 L531.6,193.4 L554.4,230.1" stroke="#bdbdbd" stroke-width="0.6" fill="none" stroke-dasharray="1.8,1.2"/>
<path d="M486.2,191.5 L509,195.5 L531.6,195.4 L554.4,252.6" stroke="#bdbdbd" stroke-width="0.6" fill="none" stroke-dasharray="1.8,1.2"/>
<path d="M486.2,193.5 L509,197.7 L531.6,210.4 L554.4,262.2" stroke="#bdbdbd" stroke-width="0.6" fill="none" stroke-dasharray="1.8,1.2"/>
<path d="M486.2,192 L509,201 L531.6,195.4 L554.4,285.2" stroke="#bdbdbd" stroke-width="0.6" fill="none" stroke-dasharray="1.8,1.2"/>
<line x1="486.2" y1="189.8" x2="486.2" y2="191" stroke="#1c1cf0" stroke-width="0.8"/>
<line x1="486.2" y1="193.6" x2="486.2" y2="196.4" stroke="#1c1cf0" stroke-width="0.8"/>
<rect x="477.9" y="191" width="16.6" height="2.6" stroke="#1c1cf0" stroke-width="0.8" fill="#1c1cf0"/>
<line x1="477.9" y1="192.3" x2="494.5" y2="192.3" stroke="#1c1cf0" stroke-width="1.35"/>
<circle cx="486.2" cy="189.8" r="1.25" fill="#000"/>
<circle cx="486.2" cy="191.5" r="1.25" fill="#000"/>
<circle cx="486.2" cy="193.5" r="1.25" fill="#000"/>
<circle cx="486.2" cy="196.4" r="1.25" fill="#000"/>
<line x1="509" y1="193.4" x2="509" y2="194" stroke="#c2c2c2" stroke-width="0.8"/>
<line x1="509" y1="201" x2="509" y2="201" stroke="#c2c2c2" stroke-width="0.8"/>
<rect x="500.7" y="194" width="16.6" height="7" stroke="#c2c2c2" stroke-width="0.8" fill="none"/>
<line x1="500.7" y1="196" x2="517.3" y2="196" stroke="#c2c2c2" stroke-width="1.35"/>
<circle cx="509" cy="193.4" r="1.25" fill="#000"/>
<circle cx="509" cy="195.5" r="1.25" fill="#000"/>
<circle cx="509" cy="197.7" r="1.25" fill="#000"/>
<circle cx="509" cy="201" r="1.25" fill="#000"/>
<circle cx="509" cy="207.7" r="1.25" fill="#000"/>
<line x1="531.6" y1="193.4" x2="531.6" y2="193.4" stroke="#f3b244" stroke-width="0.8"/>
<line x1="531.6" y1="210.4" x2="531.6" y2="218.6" stroke="#f3b244" stroke-width="0.8"/>
<rect x="523.3" y="193.4" width="16.6" height="17" stroke="#f3b244" stroke-width="0.8" fill="none"/>
<line x1="523.3" y1="195.4" x2="539.9" y2="195.4" stroke="#f3b244" stroke-width="1.35"/>
<circle cx="531.6" cy="193.4" r="1.25" fill="#000"/>
<circle cx="531.6" cy="195.4" r="1.25" fill="#000"/>
<circle cx="531.6" cy="210.4" r="1.25" fill="#000"/>
<circle cx="531.6" cy="218.6" r="1.25" fill="#000"/>
<line x1="554.4" y1="230.1" x2="554.4" y2="252.1" stroke="#f7b8c8" stroke-width="0.8"/>
<line x1="554.4" y1="270.5" x2="554.4" y2="285.2" stroke="#f7b8c8" stroke-width="0.8"/>
<rect x="546.1" y="252.1" width="16.6" height="18.4" stroke="#f7b8c8" stroke-width="0.8" fill="none"/>
<line x1="546.1" y1="261.8" x2="562.7" y2="261.8" stroke="#f7b8c8" stroke-width="1.35"/>
<circle cx="554.4" cy="230.1" r="1.25" fill="#000"/>
<circle cx="554.4" cy="252.6" r="1.25" fill="#000"/>
<circle cx="554.4" cy="262.2" r="1.25" fill="#000"/>
<circle cx="554.4" cy="270.5" r="1.25" fill="#000"/>
<circle cx="554.4" cy="285.2" r="1.25" fill="#000"/>
<line x1="589.5" y1="186.5" x2="589.5" y2="289.4" stroke="#6e6e6e" stroke-width="0.8"/>
<line x1="589.1" y1="289.4" x2="684.5" y2="289.4" stroke="#6e6e6e" stroke-width="0.8"/>
<line x1="587.7" y1="261.8" x2="589.5" y2="261.8" stroke="#666" stroke-width="0.6"/>
<text x="586.8" y="263.45" font-size="4.65" fill="#707070" text-anchor="end" font-weight="normal">0.0</text>
<line x1="587.7" y1="224.8" x2="589.5" y2="224.8" stroke="#666" stroke-width="0.6"/>
<text x="586.8" y="226.45" font-size="4.65" fill="#707070" text-anchor="end" font-weight="normal">0.5</text>
<line x1="587.7" y1="187.8" x2="589.5" y2="187.8" stroke="#666" stroke-width="0.6"/>
<text x="586.8" y="189.45" font-size="4.65" fill="#707070" text-anchor="end" font-weight="normal">1.0</text>
<line x1="603.3" y1="289.4" x2="603.3" y2="292" stroke="#6e6e6e" stroke-width="0.6"/>
<line x1="625.5" y1="289.4" x2="625.5" y2="292" stroke="#6e6e6e" stroke-width="0.6"/>
<line x1="648.7" y1="289.4" x2="648.7" y2="292" stroke="#6e6e6e" stroke-width="0.6"/>
<line x1="671.2" y1="289.4" x2="671.2" y2="292" stroke="#6e6e6e" stroke-width="0.6"/>
<text x="577.7" y="238.35" font-size="7" fill="#222" text-anchor="middle" font-weight="normal" transform="rotate(-90 577.7 238.35)">Spearman</text>
<path d="M603.3,190.7 L625.5,192.3 L648.7,198.1 L671.2,237.8" stroke="#bdbdbd" stroke-width="0.6" fill="none" stroke-dasharray="1.8,1.2"/>
<path d="M603.3,194.8 L625.5,206.7 L648.7,200.2 L671.2,243.8" stroke="#bdbdbd" stroke-width="0.6" fill="none" stroke-dasharray="1.8,1.2"/>
<path d="M603.3,198.1 L625.5,208.4 L648.7,216.4 L671.2,254" stroke="#bdbdbd" stroke-width="0.6" fill="none" stroke-dasharray="1.8,1.2"/>
<path d="M603.3,195.5 L625.5,210.4 L648.7,222.8 L671.2,266" stroke="#bdbdbd" stroke-width="0.6" fill="none" stroke-dasharray="1.8,1.2"/>
<path d="M603.3,196 L625.5,215.3 L648.7,224.2 L671.2,285.1" stroke="#bdbdbd" stroke-width="0.6" fill="none" stroke-dasharray="1.8,1.2"/>
<line x1="603.3" y1="190.7" x2="603.3" y2="191.4" stroke="#1c1cf0" stroke-width="0.8"/>
<line x1="603.3" y1="196.5" x2="603.3" y2="198.1" stroke="#1c1cf0" stroke-width="0.8"/>
<rect x="595" y="191.4" width="16.6" height="5.1" stroke="#1c1cf0" stroke-width="0.8" fill="none"/>
<line x1="595" y1="196.5" x2="611.6" y2="196.5" stroke="#1c1cf0" stroke-width="1.35"/>
<circle cx="603.3" cy="190.7" r="1.25" fill="#000"/>
<circle cx="603.3" cy="194.8" r="1.25" fill="#000"/>
<circle cx="603.3" cy="198.1" r="1.25" fill="#000"/>
<line x1="625.5" y1="206.7" x2="625.5" y2="207.7" stroke="#c2c2c2" stroke-width="0.8"/>
<line x1="625.5" y1="211.5" x2="625.5" y2="215.3" stroke="#c2c2c2" stroke-width="0.8"/>
<rect x="617.2" y="207.7" width="16.6" height="3.8" stroke="#c2c2c2" stroke-width="0.8" fill="none"/>
<line x1="617.2" y1="209.4" x2="633.8" y2="209.4" stroke="#c2c2c2" stroke-width="1.35"/>
<circle cx="625.5" cy="206.7" r="1.25" fill="#000"/>
<circle cx="625.5" cy="208.4" r="1.25" fill="#000"/>
<circle cx="625.5" cy="210.4" r="1.25" fill="#000"/>
<circle cx="625.5" cy="215.3" r="1.25" fill="#000"/>
<circle cx="625.5" cy="192.3" r="1.25" fill="#000"/>
<line x1="648.7" y1="198.1" x2="648.7" y2="201" stroke="#f3b244" stroke-width="0.8"/>
<line x1="648.7" y1="223.6" x2="648.7" y2="224.2" stroke="#f3b244" stroke-width="0.8"/>
<rect x="640.4" y="201" width="16.6" height="22.6" stroke="#f3b244" stroke-width="0.8" fill="none"/>
<line x1="640.4" y1="216.4" x2="657" y2="216.4" stroke="#f3b244" stroke-width="1.35"/>
<circle cx="648.7" cy="198.1" r="1.25" fill="#000"/>
<circle cx="648.7" cy="200.2" r="1.25" fill="#000"/>
<circle cx="648.7" cy="216.4" r="1.25" fill="#000"/>
<circle cx="648.7" cy="222.8" r="1.25" fill="#000"/>
<circle cx="648.7" cy="224.2" r="1.25" fill="#000"/>
<line x1="671.2" y1="237.8" x2="671.2" y2="243.1" stroke="#f7b8c8" stroke-width="0.8"/>
<line x1="671.2" y1="266" x2="671.2" y2="285.1" stroke="#f7b8c8" stroke-width="0.8"/>
<rect x="662.9" y="243.1" width="16.6" height="22.9" stroke="#f7b8c8" stroke-width="0.8" fill="none"/>
<line x1="662.9" y1="253.7" x2="679.5" y2="253.7" stroke="#f7b8c8" stroke-width="1.35"/>
<circle cx="671.2" cy="237.8" r="1.25" fill="#000"/>
<circle cx="671.2" cy="243.8" r="1.25" fill="#000"/>
<circle cx="671.2" cy="254" r="1.25" fill="#000"/>
<circle cx="671.2" cy="266" r="1.25" fill="#000"/>
<circle cx="671.2" cy="285.1" r="1.25" fill="#000"/>
</svg>
</body></html>
